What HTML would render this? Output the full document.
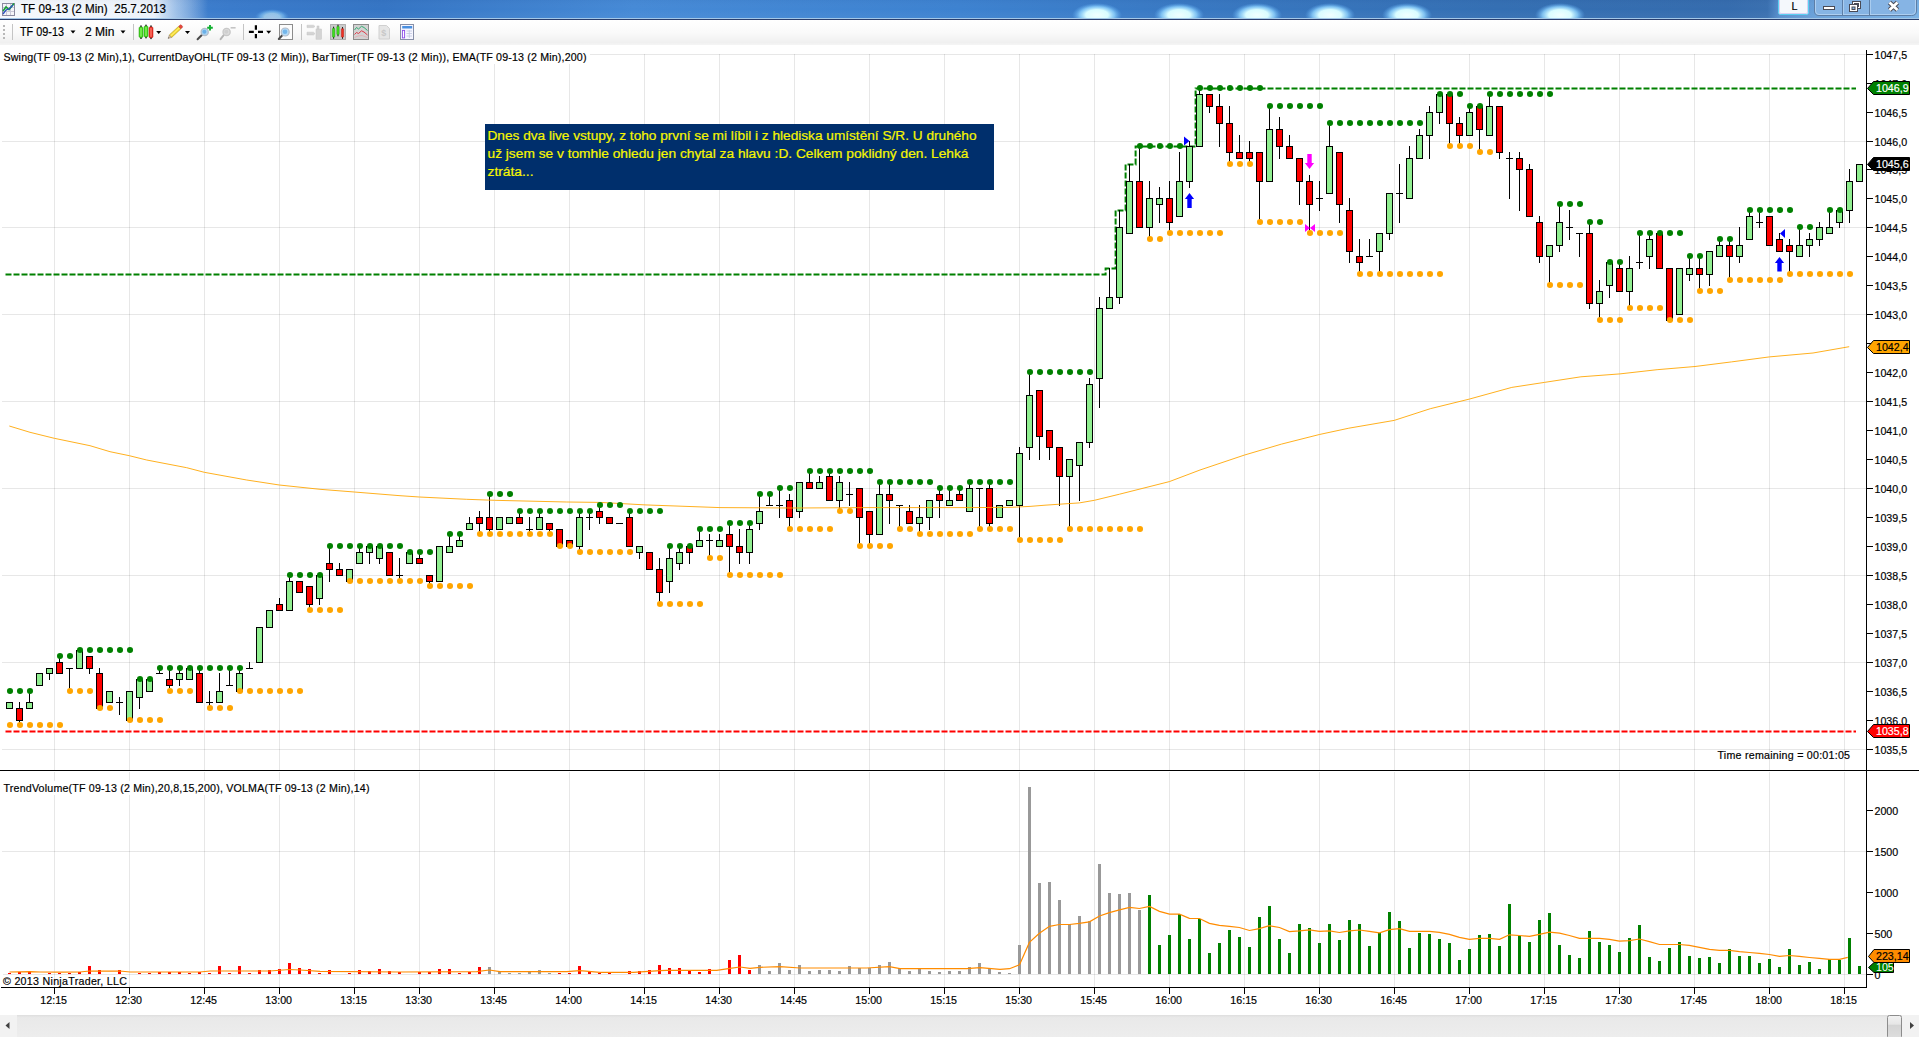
<!DOCTYPE html>
<html lang="cs"><head><meta charset="utf-8"><title>TF 09-13 (2 Min) 25.7.2013</title>
<style>html,body{margin:0;padding:0;background:#fff;overflow:hidden}svg{display:block}text{white-space:pre}</style>
</head><body>
<svg width="1919" height="1037" viewBox="0 0 1919 1037" font-family="'Liberation Sans', Arial, sans-serif" font-size="10.67px">
<defs>
<linearGradient id="tb" x1="0" x2="1" y1="0" y2="0">
<stop offset="0" stop-color="#4a8bd6"/><stop offset="0.12" stop-color="#3a7bcb"/><stop offset="0.2" stop-color="#3575c4"/>
<stop offset="0.33" stop-color="#468ad6"/><stop offset="0.5" stop-color="#3d82d0"/><stop offset="0.62" stop-color="#3878c2"/>
<stop offset="0.78" stop-color="#346fb3"/><stop offset="0.9" stop-color="#356cae"/><stop offset="0.921" stop-color="#3a70b0"/>
<stop offset="0.9275" stop-color="#5890ce"/><stop offset="0.945" stop-color="#689fd8"/><stop offset="1" stop-color="#78b0e4"/>
</linearGradient>
<linearGradient id="tbv" x1="0" x2="0" y1="0" y2="1">
<stop offset="0" stop-color="#000030" stop-opacity="0.03"/><stop offset="0.5" stop-color="#ffffff" stop-opacity="0"/>
<stop offset="1" stop-color="#ffffff" stop-opacity="0.04"/>
</linearGradient>
<linearGradient id="glow" x1="0" x2="1" y1="0" y2="0">
<stop offset="0" stop-color="#ffffff" stop-opacity="0.95"/><stop offset="0.74" stop-color="#ffffff" stop-opacity="0.9"/>
<stop offset="0.85" stop-color="#dcebfa" stop-opacity="0.6"/><stop offset="1" stop-color="#ffffff" stop-opacity="0"/>
</linearGradient>
<radialGradient id="blob" cx="0.5" cy="0.5" r="0.5">
<stop offset="0" stop-color="#f0ffff" stop-opacity="1"/><stop offset="0.45" stop-color="#d8fcff" stop-opacity="1"/>
<stop offset="0.7" stop-color="#8fd4ff" stop-opacity="0.8"/><stop offset="1" stop-color="#5aa8f0" stop-opacity="0"/>
</radialGradient>
<linearGradient id="tool" x1="0" x2="0" y1="0" y2="1">
<stop offset="0" stop-color="#ffffff"/><stop offset="0.5" stop-color="#fafafa"/><stop offset="0.9" stop-color="#f0f0f0"/><stop offset="1" stop-color="#f6f6f6"/>
</linearGradient>
<linearGradient id="sb" x1="0" x2="0" y1="0" y2="1">
<stop offset="0" stop-color="#dedede"/><stop offset="0.12" stop-color="#e9e9e9"/><stop offset="1" stop-color="#ededed"/>
</linearGradient>
<linearGradient id="thumb" x1="0" x2="0" y1="0" y2="1">
<stop offset="0" stop-color="#f2f2f2"/><stop offset="0.38" stop-color="#e6e6e6"/><stop offset="0.42" stop-color="#d4d4d4"/><stop offset="1" stop-color="#dedede"/>
</linearGradient>
<clipPath id="tbclip"><rect x="0" y="0" width="1919" height="18"/></clipPath>
</defs>
<rect x="0" y="0" width="1919" height="1037" fill="#ffffff"/>
<g id="titlebar">
<rect x="0" y="0" width="1919" height="18" fill="url(#tb)"/>
<g clip-path="url(#tbclip)">
<rect x="0" y="0" width="208" height="19" fill="url(#glow)"/>
<ellipse cx="272" cy="17" rx="17" ry="8" fill="url(#blob)" opacity="0.55"/>
<ellipse cx="1097" cy="15" rx="25" ry="12" fill="url(#blob)"/>
<ellipse cx="1179" cy="15" rx="25" ry="12" fill="url(#blob)"/>
<ellipse cx="1257" cy="15" rx="25" ry="12" fill="url(#blob)"/>
<ellipse cx="1330" cy="15" rx="25" ry="12" fill="url(#blob)"/>
<ellipse cx="1407" cy="15" rx="25" ry="12" fill="url(#blob)"/>
<ellipse cx="1560" cy="15" rx="25" ry="12" fill="url(#blob)"/>
</g>
<rect x="0" y="0" width="1919" height="18" fill="url(#tbv)"/>
<rect x="0" y="18" width="1919" height="1" fill="#a4c8e8"/>
<rect x="0" y="19" width="1919" height="1" fill="#2a3e6c"/>
<g shape-rendering="crispEdges"><rect x="2.5" y="3.5" width="12" height="12" fill="#f4f4f8" stroke="#8a8aa0"/><path d="M6.5 4V15M10.5 4V15M3 7.5H14M3 11.5H14" stroke="#c8c8d8" fill="none"/></g>
<path d="M3 11 L6 7 L9 9.5 L14 3.5" stroke="#18a038" stroke-width="1.6" fill="none"/>
<path d="M3 14 L6 10 L9 9 L13 5" stroke="#2a52c0" stroke-width="1.3" fill="none"/>
<text x="21" y="12.700" font-size="12px" fill="#000" stroke="#000" stroke-width="0.180" textLength="145" lengthAdjust="spacingAndGlyphs" xml:space="preserve">TF 09-13 (2 Min)  25.7.2013</text>
<rect x="1778.5" y="-2.5" width="30" height="17" rx="2" fill="#f4f8fc" stroke="#5ad0f0"/>
<rect x="1779.5" y="-1.5" width="28" height="15" rx="1.5" fill="none" stroke="#b8a8e8" stroke-opacity="0.5"/>
<text x="1791.500" y="9.800" font-size="10.700px" fill="#000" stroke="#000" stroke-width="0.180">L</text>
<path d="M1814.5 -2 V11 Q1814.5 15.5 1819 15.5 H1911.500 Q1916.5 15.500 1916.5 11 V-2 Z" fill="#86b4e4" stroke="#5d7ea6"/>
<path d="M1815.5 -2 V11 Q1815.5 14.5 1819 14.5 H1911.5 Q1915.5 14.5 1915.5 11 V-2" fill="none" stroke="#b8d6f4" stroke-opacity="0.8"/>
<path d="M1842.5 0V15M1869.5 0V15" stroke="#5d7ea6" fill="none"/>
<path d="M1843.5 0V14.5M1870.5 0V14.5" stroke="#b8d6f4" stroke-opacity="0.7" fill="none"/>
<rect x="1823.5" y="6.500" width="11" height="3" fill="#fff" stroke="#4a4a55"/>
<rect x="1852.5" y="1.500" width="8" height="7" fill="#fff" stroke="#4a4a55"/><rect x="1854.5" y="3.500" width="4" height="3" fill="#86b4e4" stroke="#4a4a55"/>
<rect x="1849.5" y="4.500" width="8" height="7" fill="#fff" stroke="#4a4a55"/><rect x="1852" y="7" width="3" height="2.500" fill="#86b4e4" stroke="#4a4a55"/>
<path d="M1889.500 2.500 L1897.500 10 M1897.500 2.500 L1889.500 10" stroke="#4a4a55" stroke-width="4.600" fill="none"/>
<path d="M1889.500 2.500 L1897.500 10 M1897.500 2.500 L1889.500 10" stroke="#fff" stroke-width="2.800" fill="none"/>
</g>
<g id="toolbar">
<rect x="0" y="20" width="1919" height="25" fill="url(#tool)"/>
<rect x="0" y="44" width="1919" height="1" fill="#f4f4f4"/>
<rect x="3" y="25" width="2" height="2" fill="#b8b8b8"/>
<rect x="3" y="29" width="2" height="2" fill="#b8b8b8"/>
<rect x="3" y="33" width="2" height="2" fill="#b8b8b8"/>
<rect x="3" y="37" width="2" height="2" fill="#b8b8b8"/>
<rect x="12" y="24" width="1" height="16" fill="#c4c4c4"/>
<text x="20" y="36" font-size="12px" fill="#000" stroke="#000" stroke-width="0.180" textLength="44" lengthAdjust="spacingAndGlyphs">TF 09-13</text>
<path d="M70.500 30.500 h5 l-2.500 3 z" fill="#000"/>
<text x="85" y="36" font-size="12px" fill="#000" stroke="#000" stroke-width="0.180" textLength="29.5" lengthAdjust="spacingAndGlyphs">2 Min</text>
<path d="M120.500 30.500 h5 l-2.500 3 z" fill="#000"/>
<rect x="133" y="24" width="1" height="16" fill="#c4c4c4"/>
<rect x="140.25" y="25.299999999999997" width="1.500" height="13.8" rx="0.700" fill="#1a1a1a"/><rect x="139" y="26.9" width="4" height="10.600000000000001" rx="1.200" fill="#3fd41c" stroke="#2a9a10" stroke-width="0.500"/><rect x="140.3" y="27.7" width="1.400" height="9.000000000000002" rx="0.700" fill="#9cff70" fill-opacity="0.75"/>
<rect x="145.25" y="24.4" width="1.500" height="14.099999999999998" rx="0.700" fill="#1a1a1a"/><rect x="144" y="26.0" width="4" height="10.899999999999999" rx="1.200" fill="#3fd41c" stroke="#2a9a10" stroke-width="0.500"/><rect x="145.3" y="26.8" width="1.400" height="9.299999999999999" rx="0.700" fill="#9cff70" fill-opacity="0.75"/>
<rect x="150.25" y="25.299999999999997" width="1.500" height="14.000000000000004" rx="0.700" fill="#1a1a1a"/><rect x="149" y="26.9" width="4" height="10.800000000000004" rx="1.200" fill="#ee2e24" stroke="#a81810" stroke-width="0.500"/><rect x="150.3" y="27.7" width="1.400" height="9.200000000000005" rx="0.700" fill="#ff9080" fill-opacity="0.75"/>
<path d="M156.200 31 h5 l-2.500 3 z" fill="#000"/>
<g transform="translate(168.100,38.400) rotate(-42.800)"><rect x="3.200" y="-1.700" width="12.600" height="3.400" fill="#f6dc30" stroke="#b09a20" stroke-width="0.600"/><rect x="3.200" y="-0.500" width="12.600" height="1" fill="#fff080" fill-opacity="0.800"/><path d="M3.200 -1.700 L0 0 L3.200 1.700 Z" fill="#d8c0a0" stroke="#8a7a6a" stroke-width="0.400"/><path d="M1.100 -0.600 L0 0 L1.100 0.600Z" fill="#444"/><rect x="15.800" y="-1.700" width="3" height="3.400" rx="1" fill="#e8483c" stroke="#a83028" stroke-width="0.400"/></g>
<path d="M185 31 h5 l-2.500 3 z" fill="#000"/>
<path d="M197.6 39.2 L202.29999999999998 34.5" stroke="#4a4a4a" stroke-width="2" stroke-linecap="round"/><circle cx="204.7" cy="31.9" r="3.600" fill="#a8d4f4" stroke="#b4bcc8" stroke-width="1.300"/><circle cx="204.39999999999998" cy="31.7" r="2" fill="#6ab0e8"/>
<path d="M210 25 v5.600 M207.200 27.800 h5.600" stroke="#10b030" stroke-width="1.900"/>
<path d="M220.6 39.2 L224.2 34.5" stroke="#b4b4b4" stroke-width="2" stroke-linecap="round"/><circle cx="226.6" cy="31.9" r="3.600" fill="#dcdcdc" stroke="#c8c8c8" stroke-width="1.300"/><circle cx="226.29999999999998" cy="31.7" r="2" fill="#cfcfcf"/>
<path d="M230.600 27.800 h5" stroke="#c4c4c4" stroke-width="1.600"/>
<rect x="243" y="24" width="1" height="16" fill="#c4c4c4"/>
<path d="M255.900 25.200 v4.600 M255.900 34 v4.300 M248.900 31.900 h4.900 M258 31.900 h5" stroke="#000" stroke-width="2.200" fill="none"/>
<path d="M266.200 30.800 h5 l-2.500 3 z" fill="#000"/>
<rect x="279.500" y="24.500" width="13" height="15" fill="#fcfcfc" stroke="#8c8c8c"/>
<path d="M278.800 39 L282.300 35.300" stroke="#4a4a4a" stroke-width="2" stroke-linecap="round"/>
<circle cx="285.200" cy="32" r="4" fill="#b4daf6" stroke="#b4bcc8" stroke-width="1.200"/><circle cx="285" cy="31.800" r="2.300" fill="#74b6ea"/>
<rect x="301" y="24" width="1" height="16" fill="#c4c4c4"/>
<g fill="#d4d4d4" stroke="#c4c4c4" stroke-width="0.500"><path d="M307 25.200 h6.500 l1.500 1.200 l-1.500 1.200 h-6.500 z"/><path d="M307 32.200 h6.500 l1.500 1.400 l-1.500 1.400 h-6.500 z"/><rect x="316" y="29" width="5.500" height="10.200"/><rect x="317" y="26" width="2" height="3"/></g>
<rect x="330.500" y="24.500" width="15" height="15" fill="#cacaca" stroke="#7c7c7c" stroke-dasharray="1 1"/>
<rect x="333.09999999999997" y="26.7" width="1" height="12.000000000000004" fill="#111"/><rect x="332.4" y="28.2" width="2.400" height="9.000000000000004" rx="0.800" fill="#3fe01c" stroke="#1a8a10" stroke-width="0.400"/>
<rect x="337.5" y="24.7" width="1" height="11.599999999999998" fill="#111"/><rect x="336.8" y="26.2" width="2.400" height="8.599999999999998" rx="0.800" fill="#3fe01c" stroke="#1a8a10" stroke-width="0.400"/>
<rect x="342.0" y="27.1" width="1" height="11.600000000000001" fill="#111"/><rect x="341.3" y="28.6" width="2.400" height="8.600000000000001" rx="0.800" fill="#f03024" stroke="#a01810" stroke-width="0.400"/>
<rect x="353.500" y="24.500" width="15" height="15" fill="#d2d2d2" stroke="#8c8c8c"/>
<path d="M354.500 30 L356.500 27.500 L358.500 29 L361.500 26.300 L364 27.500 L367.500 30.500" stroke="#20a868" stroke-width="0.900" fill="none"/>
<path d="M354.500 34.500 L356.500 32.500 L358.500 33.500 L361.500 30.800 L364 32 L367.500 35" stroke="#e02838" stroke-width="0.900" fill="none"/>
<path d="M354.500 37.500 L358 36 L362 35.500 L367.500 37.500" stroke="#e8a0a8" stroke-width="0.700" fill="none"/>
<path d="M379 25.500 h7.500 l3 3 v10.500 h-10.500 z" fill="#e6e6e6" stroke="#d0d0d0"/>
<text x="381.200" y="36.300" font-size="9px" font-weight="bold" fill="#c8c8c8">$</text>
<rect x="400.500" y="24.500" width="13" height="15" fill="#f6f6ff" stroke="#8890a8"/>
<rect x="402.200" y="26" width="10" height="2.500" fill="#4a90e0"/>
<rect x="402.400" y="30.400" width="2.200" height="7.500" fill="#fff" stroke="#8a4ae8" stroke-width="0.900"/>
<path d="M406.500 31 h5.500 M406.500 33.500 h5.500 M406.500 36 h5.500 M409.300 30 v8" stroke="#c0c8e0" stroke-width="0.800"/>
</g>
<g id="grid" shape-rendering="crispEdges">
<rect x="54" y="54" width="1" height="716" fill="#000" fill-opacity="0.095"/>
<rect x="54" y="772" width="1" height="215" fill="#000" fill-opacity="0.095"/>
<rect x="129" y="54" width="1" height="716" fill="#000" fill-opacity="0.095"/>
<rect x="129" y="772" width="1" height="215" fill="#000" fill-opacity="0.095"/>
<rect x="204" y="54" width="1" height="716" fill="#000" fill-opacity="0.095"/>
<rect x="204" y="772" width="1" height="215" fill="#000" fill-opacity="0.095"/>
<rect x="279" y="54" width="1" height="716" fill="#000" fill-opacity="0.095"/>
<rect x="279" y="772" width="1" height="215" fill="#000" fill-opacity="0.095"/>
<rect x="354" y="54" width="1" height="716" fill="#000" fill-opacity="0.095"/>
<rect x="354" y="772" width="1" height="215" fill="#000" fill-opacity="0.095"/>
<rect x="419" y="54" width="1" height="716" fill="#000" fill-opacity="0.095"/>
<rect x="419" y="772" width="1" height="215" fill="#000" fill-opacity="0.095"/>
<rect x="494" y="54" width="1" height="716" fill="#000" fill-opacity="0.095"/>
<rect x="494" y="772" width="1" height="215" fill="#000" fill-opacity="0.095"/>
<rect x="569" y="54" width="1" height="716" fill="#000" fill-opacity="0.095"/>
<rect x="569" y="772" width="1" height="215" fill="#000" fill-opacity="0.095"/>
<rect x="644" y="54" width="1" height="716" fill="#000" fill-opacity="0.095"/>
<rect x="644" y="772" width="1" height="215" fill="#000" fill-opacity="0.095"/>
<rect x="719" y="54" width="1" height="716" fill="#000" fill-opacity="0.095"/>
<rect x="719" y="772" width="1" height="215" fill="#000" fill-opacity="0.095"/>
<rect x="794" y="54" width="1" height="716" fill="#000" fill-opacity="0.095"/>
<rect x="794" y="772" width="1" height="215" fill="#000" fill-opacity="0.095"/>
<rect x="869" y="54" width="1" height="716" fill="#000" fill-opacity="0.095"/>
<rect x="869" y="772" width="1" height="215" fill="#000" fill-opacity="0.095"/>
<rect x="944" y="54" width="1" height="716" fill="#000" fill-opacity="0.095"/>
<rect x="944" y="772" width="1" height="215" fill="#000" fill-opacity="0.095"/>
<rect x="1019" y="54" width="1" height="716" fill="#000" fill-opacity="0.095"/>
<rect x="1019" y="772" width="1" height="215" fill="#000" fill-opacity="0.095"/>
<rect x="1094" y="54" width="1" height="716" fill="#000" fill-opacity="0.095"/>
<rect x="1094" y="772" width="1" height="215" fill="#000" fill-opacity="0.095"/>
<rect x="1169" y="54" width="1" height="716" fill="#000" fill-opacity="0.095"/>
<rect x="1169" y="772" width="1" height="215" fill="#000" fill-opacity="0.095"/>
<rect x="1244" y="54" width="1" height="716" fill="#000" fill-opacity="0.095"/>
<rect x="1244" y="772" width="1" height="215" fill="#000" fill-opacity="0.095"/>
<rect x="1319" y="54" width="1" height="716" fill="#000" fill-opacity="0.095"/>
<rect x="1319" y="772" width="1" height="215" fill="#000" fill-opacity="0.095"/>
<rect x="1394" y="54" width="1" height="716" fill="#000" fill-opacity="0.095"/>
<rect x="1394" y="772" width="1" height="215" fill="#000" fill-opacity="0.095"/>
<rect x="1469" y="54" width="1" height="716" fill="#000" fill-opacity="0.095"/>
<rect x="1469" y="772" width="1" height="215" fill="#000" fill-opacity="0.095"/>
<rect x="1544" y="54" width="1" height="716" fill="#000" fill-opacity="0.095"/>
<rect x="1544" y="772" width="1" height="215" fill="#000" fill-opacity="0.095"/>
<rect x="1619" y="54" width="1" height="716" fill="#000" fill-opacity="0.095"/>
<rect x="1619" y="772" width="1" height="215" fill="#000" fill-opacity="0.095"/>
<rect x="1694" y="54" width="1" height="716" fill="#000" fill-opacity="0.095"/>
<rect x="1694" y="772" width="1" height="215" fill="#000" fill-opacity="0.095"/>
<rect x="1769" y="54" width="1" height="716" fill="#000" fill-opacity="0.095"/>
<rect x="1769" y="772" width="1" height="215" fill="#000" fill-opacity="0.095"/>
<rect x="1844" y="54" width="1" height="716" fill="#000" fill-opacity="0.095"/>
<rect x="1844" y="772" width="1" height="215" fill="#000" fill-opacity="0.095"/>
<rect x="2" y="54" width="1864" height="1" fill="#000" fill-opacity="0.095"/>
<rect x="2" y="141" width="1864" height="1" fill="#000" fill-opacity="0.095"/>
<rect x="2" y="227" width="1864" height="1" fill="#000" fill-opacity="0.095"/>
<rect x="2" y="314" width="1864" height="1" fill="#000" fill-opacity="0.095"/>
<rect x="2" y="401" width="1864" height="1" fill="#000" fill-opacity="0.095"/>
<rect x="2" y="488" width="1864" height="1" fill="#000" fill-opacity="0.095"/>
<rect x="2" y="575" width="1864" height="1" fill="#000" fill-opacity="0.095"/>
<rect x="2" y="662" width="1864" height="1" fill="#000" fill-opacity="0.095"/>
<rect x="2" y="749" width="1864" height="1" fill="#000" fill-opacity="0.095"/>
<rect x="2" y="851" width="1864" height="1" fill="#000" fill-opacity="0.095"/>
</g>
<rect x="3" y="974" width="1863" height="1" fill="#000" fill-opacity="0.095" shape-rendering="crispEdges"/>
<rect x="2" y="47" width="588" height="17" fill="#ffffff"/>
<text x="3.500" y="61" fill="#000" stroke="#000" stroke-width="0.180" textLength="583" lengthAdjust="spacing">Swing(TF 09-13 (2 Min),1), CurrentDayOHL(TF 09-13 (2 Min)), BarTimer(TF 09-13 (2 Min)), EMA(TF 09-13 (2 Min),200)</text>
<rect x="485" y="124" width="509" height="66" fill="#002f6c"/>
<text x="487.500" y="139.5" font-size="12.500px" fill="#f6f600" stroke="#f6f600" stroke-width="0.200" textLength="489" lengthAdjust="spacingAndGlyphs">Dnes dva live vstupy, z toho první se mi líbil i z hlediska umístění S/R. U druhého</text>
<text x="487.500" y="157.5" font-size="12.500px" fill="#f6f600" stroke="#f6f600" stroke-width="0.200" textLength="481" lengthAdjust="spacingAndGlyphs">už jsem se v tomhle ohledu jen chytal za hlavu :D. Celkem poklidný den. Lehká</text>
<text x="487.500" y="175.5" font-size="12.500px" fill="#f6f600" stroke="#f6f600" stroke-width="0.200" textLength="46" lengthAdjust="spacingAndGlyphs">ztráta...</text>
<path d="M5.5 274.5 H1105.6 V268.5 H1115.6 V210.5 H1125.6 V164.5 H1135.6 V146.5 H1195.6 V88.5 H1856" fill="none" stroke="#008000" stroke-width="2" stroke-dasharray="6 2"/>
<path d="M5.500 731.5 H1856" fill="none" stroke="#ff0000" stroke-width="2" stroke-dasharray="6 2"/>
<g id="candles" shape-rendering="crispEdges">
<rect x="9.0" y="702" width="1" height="7" fill="#000"/>
<rect x="6.5" y="702.5" width="6" height="6" fill="#90ee90" stroke="#000" stroke-width="1"/>
<rect x="19.0" y="702" width="1" height="22" fill="#000"/>
<rect x="16.5" y="708.5" width="6" height="12" fill="#ff0000" stroke="#000" stroke-width="1"/>
<rect x="29.0" y="691" width="1" height="18" fill="#000"/>
<rect x="26.5" y="702.5" width="6" height="6" fill="#90ee90" stroke="#000" stroke-width="1"/>
<rect x="39.0" y="673" width="1" height="13" fill="#000"/>
<rect x="36.5" y="673.5" width="6" height="12" fill="#90ee90" stroke="#000" stroke-width="1"/>
<rect x="49.0" y="668" width="1" height="12" fill="#000"/>
<rect x="46.5" y="668.5" width="6" height="5" fill="#90ee90" stroke="#000" stroke-width="1"/>
<rect x="59.0" y="656" width="1" height="18" fill="#000"/>
<rect x="56.5" y="662.5" width="6" height="11" fill="#ff0000" stroke="#000" stroke-width="1"/>
<rect x="69.0" y="668" width="1" height="24" fill="#000"/>
<rect x="66.0" y="668" width="7" height="1" fill="#000"/>
<rect x="79.0" y="650" width="1" height="19" fill="#000"/>
<rect x="76.5" y="650.5" width="6" height="18" fill="#90ee90" stroke="#000" stroke-width="1"/>
<rect x="89.0" y="656" width="1" height="18" fill="#000"/>
<rect x="86.5" y="656.5" width="6" height="12" fill="#ff0000" stroke="#000" stroke-width="1"/>
<rect x="99.0" y="668" width="1" height="41" fill="#000"/>
<rect x="96.5" y="673.5" width="6" height="35" fill="#ff0000" stroke="#000" stroke-width="1"/>
<rect x="109.0" y="691" width="1" height="12" fill="#000"/>
<rect x="106.5" y="691.5" width="6" height="11" fill="#90ee90" stroke="#000" stroke-width="1"/>
<rect x="119.0" y="697" width="1" height="18" fill="#000"/>
<rect x="116.0" y="702" width="7" height="1" fill="#000"/>
<rect x="129.0" y="691" width="1" height="30" fill="#000"/>
<rect x="126.5" y="691.5" width="6" height="29" fill="#90ee90" stroke="#000" stroke-width="1"/>
<rect x="139.0" y="679" width="1" height="30" fill="#000"/>
<rect x="136.5" y="679.5" width="6" height="18" fill="#90ee90" stroke="#000" stroke-width="1"/>
<rect x="149.0" y="677" width="1" height="15" fill="#000"/>
<rect x="146.5" y="679.5" width="6" height="12" fill="#90ee90" stroke="#000" stroke-width="1"/>
<rect x="159.0" y="668" width="1" height="6" fill="#000"/>
<rect x="156.0" y="673" width="7" height="1" fill="#000"/>
<rect x="169.0" y="668" width="1" height="20" fill="#000"/>
<rect x="166.5" y="679.5" width="6" height="6" fill="#ff0000" stroke="#000" stroke-width="1"/>
<rect x="179.0" y="668" width="1" height="18" fill="#000"/>
<rect x="176.5" y="673.5" width="6" height="6" fill="#90ee90" stroke="#000" stroke-width="1"/>
<rect x="189.0" y="668" width="1" height="12" fill="#000"/>
<rect x="186.5" y="668.5" width="6" height="11" fill="#90ee90" stroke="#000" stroke-width="1"/>
<rect x="199.0" y="670" width="1" height="33" fill="#000"/>
<rect x="196.5" y="673.5" width="6" height="29" fill="#ff0000" stroke="#000" stroke-width="1"/>
<rect x="209.0" y="691" width="1" height="16" fill="#000"/>
<rect x="206.0" y="702" width="7" height="1" fill="#000"/>
<rect x="219.0" y="673" width="1" height="30" fill="#000"/>
<rect x="216.5" y="691.5" width="6" height="11" fill="#90ee90" stroke="#000" stroke-width="1"/>
<rect x="229.0" y="668" width="1" height="18" fill="#000"/>
<rect x="226.0" y="685" width="7" height="1" fill="#000"/>
<rect x="239.0" y="668" width="1" height="24" fill="#000"/>
<rect x="236.5" y="673.5" width="6" height="18" fill="#90ee90" stroke="#000" stroke-width="1"/>
<rect x="249.0" y="662" width="1" height="7" fill="#000"/>
<rect x="246.0" y="668" width="7" height="1" fill="#000"/>
<rect x="259.0" y="627" width="1" height="36" fill="#000"/>
<rect x="256.5" y="627.5" width="6" height="35" fill="#90ee90" stroke="#000" stroke-width="1"/>
<rect x="269.0" y="610" width="1" height="18" fill="#000"/>
<rect x="266.5" y="610.5" width="6" height="17" fill="#90ee90" stroke="#000" stroke-width="1"/>
<rect x="279.0" y="598" width="1" height="13" fill="#000"/>
<rect x="276.5" y="604.5" width="6" height="6" fill="#ff0000" stroke="#000" stroke-width="1"/>
<rect x="289.0" y="575" width="1" height="36" fill="#000"/>
<rect x="286.5" y="581.5" width="6" height="29" fill="#90ee90" stroke="#000" stroke-width="1"/>
<rect x="299.0" y="581" width="1" height="12" fill="#000"/>
<rect x="296.5" y="581.5" width="6" height="11" fill="#ff0000" stroke="#000" stroke-width="1"/>
<rect x="309.0" y="586" width="1" height="25" fill="#000"/>
<rect x="306.5" y="586.5" width="6" height="18" fill="#ff0000" stroke="#000" stroke-width="1"/>
<rect x="319.0" y="575" width="1" height="30" fill="#000"/>
<rect x="316.5" y="575.5" width="6" height="23" fill="#90ee90" stroke="#000" stroke-width="1"/>
<rect x="329.0" y="546" width="1" height="36" fill="#000"/>
<rect x="326.5" y="563.5" width="6" height="6" fill="#ff0000" stroke="#000" stroke-width="1"/>
<rect x="339.0" y="563" width="1" height="13" fill="#000"/>
<rect x="336.5" y="569.5" width="6" height="6" fill="#ff0000" stroke="#000" stroke-width="1"/>
<rect x="349.0" y="569" width="1" height="13" fill="#000"/>
<rect x="346.5" y="569.5" width="6" height="12" fill="#90ee90" stroke="#000" stroke-width="1"/>
<rect x="359.0" y="546" width="1" height="18" fill="#000"/>
<rect x="356.5" y="552.5" width="6" height="11" fill="#90ee90" stroke="#000" stroke-width="1"/>
<rect x="369.0" y="546" width="1" height="18" fill="#000"/>
<rect x="366.5" y="546.5" width="6" height="6" fill="#90ee90" stroke="#000" stroke-width="1"/>
<rect x="379.0" y="546" width="1" height="18" fill="#000"/>
<rect x="376.5" y="546.5" width="6" height="12" fill="#90ee90" stroke="#000" stroke-width="1"/>
<rect x="389.0" y="552" width="1" height="24" fill="#000"/>
<rect x="386.5" y="552.5" width="6" height="23" fill="#ff0000" stroke="#000" stroke-width="1"/>
<rect x="399.0" y="558" width="1" height="24" fill="#000"/>
<rect x="396.0" y="575" width="7" height="1" fill="#000"/>
<rect x="409.0" y="552" width="1" height="12" fill="#000"/>
<rect x="406.5" y="552.5" width="6" height="11" fill="#90ee90" stroke="#000" stroke-width="1"/>
<rect x="419.0" y="552" width="1" height="12" fill="#000"/>
<rect x="416.5" y="558.5" width="6" height="5" fill="#ff0000" stroke="#000" stroke-width="1"/>
<rect x="429.0" y="575" width="1" height="12" fill="#000"/>
<rect x="426.5" y="575.5" width="6" height="6" fill="#ff0000" stroke="#000" stroke-width="1"/>
<rect x="439.0" y="546" width="1" height="36" fill="#000"/>
<rect x="436.5" y="546.5" width="6" height="35" fill="#90ee90" stroke="#000" stroke-width="1"/>
<rect x="449.0" y="534" width="1" height="19" fill="#000"/>
<rect x="446.5" y="546.5" width="6" height="6" fill="#90ee90" stroke="#000" stroke-width="1"/>
<rect x="459.0" y="534" width="1" height="13" fill="#000"/>
<rect x="456.5" y="540.5" width="6" height="6" fill="#90ee90" stroke="#000" stroke-width="1"/>
<rect x="469.0" y="517" width="1" height="13" fill="#000"/>
<rect x="466.5" y="523.5" width="6" height="6" fill="#90ee90" stroke="#000" stroke-width="1"/>
<rect x="479.0" y="511" width="1" height="24" fill="#000"/>
<rect x="476.5" y="517.5" width="6" height="6" fill="#ff0000" stroke="#000" stroke-width="1"/>
<rect x="489.0" y="494" width="1" height="41" fill="#000"/>
<rect x="486.5" y="517.5" width="6" height="12" fill="#ff0000" stroke="#000" stroke-width="1"/>
<rect x="499.0" y="517" width="1" height="13" fill="#000"/>
<rect x="496.5" y="517.5" width="6" height="12" fill="#90ee90" stroke="#000" stroke-width="1"/>
<rect x="509.0" y="517" width="1" height="7" fill="#000"/>
<rect x="506.5" y="517.5" width="6" height="6" fill="#90ee90" stroke="#000" stroke-width="1"/>
<rect x="519.0" y="511" width="1" height="13" fill="#000"/>
<rect x="516.5" y="517.5" width="6" height="6" fill="#ff0000" stroke="#000" stroke-width="1"/>
<rect x="529.0" y="517" width="1" height="18" fill="#000"/>
<rect x="526.0" y="529" width="7" height="1" fill="#000"/>
<rect x="539.0" y="511" width="1" height="19" fill="#000"/>
<rect x="536.5" y="517.5" width="6" height="12" fill="#90ee90" stroke="#000" stroke-width="1"/>
<rect x="549.0" y="523" width="1" height="12" fill="#000"/>
<rect x="546.5" y="523.5" width="6" height="6" fill="#ff0000" stroke="#000" stroke-width="1"/>
<rect x="559.0" y="529" width="1" height="18" fill="#000"/>
<rect x="556.5" y="529.5" width="6" height="17" fill="#ff0000" stroke="#000" stroke-width="1"/>
<rect x="569.0" y="540" width="1" height="7" fill="#000"/>
<rect x="566.5" y="540.5" width="6" height="6" fill="#ff0000" stroke="#000" stroke-width="1"/>
<rect x="579.0" y="511" width="1" height="42" fill="#000"/>
<rect x="576.5" y="517.5" width="6" height="29" fill="#90ee90" stroke="#000" stroke-width="1"/>
<rect x="589.0" y="511" width="1" height="19" fill="#000"/>
<rect x="586.0" y="517" width="7" height="1" fill="#000"/>
<rect x="599.0" y="505" width="1" height="19" fill="#000"/>
<rect x="596.5" y="511.5" width="6" height="6" fill="#ff0000" stroke="#000" stroke-width="1"/>
<rect x="609.0" y="517" width="1" height="7" fill="#000"/>
<rect x="606.5" y="517.5" width="6" height="6" fill="#ff0000" stroke="#000" stroke-width="1"/>
<rect x="616.0" y="523" width="7" height="1" fill="#000"/>
<rect x="629.0" y="511" width="1" height="36" fill="#000"/>
<rect x="626.5" y="517.5" width="6" height="29" fill="#ff0000" stroke="#000" stroke-width="1"/>
<rect x="639.0" y="546" width="1" height="13" fill="#000"/>
<rect x="636.5" y="546.5" width="6" height="6" fill="#90ee90" stroke="#000" stroke-width="1"/>
<rect x="649.0" y="552" width="1" height="18" fill="#000"/>
<rect x="646.5" y="552.5" width="6" height="17" fill="#ff0000" stroke="#000" stroke-width="1"/>
<rect x="659.0" y="558" width="1" height="47" fill="#000"/>
<rect x="656.5" y="569.5" width="6" height="23" fill="#ff0000" stroke="#000" stroke-width="1"/>
<rect x="669.0" y="546" width="1" height="47" fill="#000"/>
<rect x="666.5" y="558.5" width="6" height="23" fill="#90ee90" stroke="#000" stroke-width="1"/>
<rect x="679.0" y="546" width="1" height="24" fill="#000"/>
<rect x="676.5" y="552.5" width="6" height="11" fill="#90ee90" stroke="#000" stroke-width="1"/>
<rect x="689.0" y="546" width="1" height="18" fill="#000"/>
<rect x="686.5" y="546.5" width="6" height="6" fill="#ff0000" stroke="#000" stroke-width="1"/>
<rect x="699.0" y="529" width="1" height="18" fill="#000"/>
<rect x="696.5" y="540.5" width="6" height="6" fill="#90ee90" stroke="#000" stroke-width="1"/>
<rect x="709.0" y="534" width="1" height="25" fill="#000"/>
<rect x="706.0" y="540" width="7" height="1" fill="#000"/>
<rect x="719.0" y="534" width="1" height="13" fill="#000"/>
<rect x="716.5" y="540.5" width="6" height="6" fill="#90ee90" stroke="#000" stroke-width="1"/>
<rect x="729.0" y="523" width="1" height="53" fill="#000"/>
<rect x="726.5" y="534.5" width="6" height="12" fill="#ff0000" stroke="#000" stroke-width="1"/>
<rect x="739.0" y="529" width="1" height="35" fill="#000"/>
<rect x="736.5" y="546.5" width="6" height="6" fill="#ff0000" stroke="#000" stroke-width="1"/>
<rect x="749.0" y="523" width="1" height="41" fill="#000"/>
<rect x="746.5" y="529.5" width="6" height="23" fill="#90ee90" stroke="#000" stroke-width="1"/>
<rect x="759.0" y="494" width="1" height="36" fill="#000"/>
<rect x="756.5" y="511.5" width="6" height="12" fill="#90ee90" stroke="#000" stroke-width="1"/>
<rect x="769.0" y="494" width="1" height="12" fill="#000"/>
<rect x="766.0" y="505" width="7" height="1" fill="#000"/>
<rect x="779.0" y="488" width="1" height="30" fill="#000"/>
<rect x="776.0" y="505" width="7" height="1" fill="#000"/>
<rect x="789.0" y="494" width="1" height="36" fill="#000"/>
<rect x="786.5" y="500.5" width="6" height="17" fill="#ff0000" stroke="#000" stroke-width="1"/>
<rect x="799.0" y="482" width="1" height="36" fill="#000"/>
<rect x="796.5" y="482.5" width="6" height="29" fill="#90ee90" stroke="#000" stroke-width="1"/>
<rect x="809.0" y="471" width="1" height="18" fill="#000"/>
<rect x="806.5" y="482.5" width="6" height="6" fill="#ff0000" stroke="#000" stroke-width="1"/>
<rect x="819.0" y="476" width="1" height="13" fill="#000"/>
<rect x="816.5" y="482.5" width="6" height="6" fill="#90ee90" stroke="#000" stroke-width="1"/>
<rect x="829.0" y="471" width="1" height="30" fill="#000"/>
<rect x="826.5" y="476.5" width="6" height="24" fill="#ff0000" stroke="#000" stroke-width="1"/>
<rect x="839.0" y="476" width="1" height="36" fill="#000"/>
<rect x="836.5" y="482.5" width="6" height="18" fill="#90ee90" stroke="#000" stroke-width="1"/>
<rect x="849.0" y="482" width="1" height="24" fill="#000"/>
<rect x="846.0" y="494" width="7" height="1" fill="#000"/>
<rect x="859.0" y="488" width="1" height="59" fill="#000"/>
<rect x="856.5" y="488.5" width="6" height="29" fill="#ff0000" stroke="#000" stroke-width="1"/>
<rect x="869.0" y="511" width="1" height="36" fill="#000"/>
<rect x="866.5" y="511.5" width="6" height="23" fill="#ff0000" stroke="#000" stroke-width="1"/>
<rect x="879.0" y="482" width="1" height="53" fill="#000"/>
<rect x="876.5" y="494.5" width="6" height="40" fill="#90ee90" stroke="#000" stroke-width="1"/>
<rect x="889.0" y="482" width="1" height="42" fill="#000"/>
<rect x="886.5" y="494.5" width="6" height="6" fill="#ff0000" stroke="#000" stroke-width="1"/>
<rect x="899.0" y="505" width="1" height="25" fill="#000"/>
<rect x="896.0" y="505" width="7" height="1" fill="#000"/>
<rect x="909.0" y="505" width="1" height="19" fill="#000"/>
<rect x="906.5" y="511.5" width="6" height="12" fill="#ff0000" stroke="#000" stroke-width="1"/>
<rect x="919.0" y="505" width="1" height="30" fill="#000"/>
<rect x="916.5" y="517.5" width="6" height="6" fill="#90ee90" stroke="#000" stroke-width="1"/>
<rect x="929.0" y="500" width="1" height="30" fill="#000"/>
<rect x="926.5" y="500.5" width="6" height="17" fill="#90ee90" stroke="#000" stroke-width="1"/>
<rect x="939.0" y="488" width="1" height="30" fill="#000"/>
<rect x="936.5" y="494.5" width="6" height="6" fill="#ff0000" stroke="#000" stroke-width="1"/>
<rect x="949.0" y="488" width="1" height="18" fill="#000"/>
<rect x="946.5" y="500.5" width="6" height="5" fill="#90ee90" stroke="#000" stroke-width="1"/>
<rect x="959.0" y="488" width="1" height="13" fill="#000"/>
<rect x="956.5" y="494.5" width="6" height="6" fill="#ff0000" stroke="#000" stroke-width="1"/>
<rect x="969.0" y="482" width="1" height="30" fill="#000"/>
<rect x="966.5" y="488.5" width="6" height="23" fill="#90ee90" stroke="#000" stroke-width="1"/>
<rect x="979.0" y="488" width="1" height="42" fill="#000"/>
<rect x="976.0" y="488" width="7" height="1" fill="#000"/>
<rect x="989.0" y="482" width="1" height="48" fill="#000"/>
<rect x="986.5" y="488.5" width="6" height="35" fill="#ff0000" stroke="#000" stroke-width="1"/>
<rect x="999.0" y="505" width="1" height="13" fill="#000"/>
<rect x="996.5" y="505.5" width="6" height="12" fill="#90ee90" stroke="#000" stroke-width="1"/>
<rect x="1009.0" y="500" width="1" height="6" fill="#000"/>
<rect x="1006.5" y="500.5" width="6" height="5" fill="#90ee90" stroke="#000" stroke-width="1"/>
<rect x="1019.0" y="447" width="1" height="94" fill="#000"/>
<rect x="1016.5" y="453.5" width="6" height="52" fill="#90ee90" stroke="#000" stroke-width="1"/>
<rect x="1029.0" y="372" width="1" height="88" fill="#000"/>
<rect x="1026.5" y="395.5" width="6" height="52" fill="#90ee90" stroke="#000" stroke-width="1"/>
<rect x="1039.0" y="390" width="1" height="70" fill="#000"/>
<rect x="1036.5" y="390.5" width="6" height="46" fill="#ff0000" stroke="#000" stroke-width="1"/>
<rect x="1049.0" y="430" width="1" height="30" fill="#000"/>
<rect x="1046.5" y="430.5" width="6" height="17" fill="#ff0000" stroke="#000" stroke-width="1"/>
<rect x="1059.0" y="447" width="1" height="59" fill="#000"/>
<rect x="1056.5" y="447.5" width="6" height="29" fill="#ff0000" stroke="#000" stroke-width="1"/>
<rect x="1069.0" y="459" width="1" height="71" fill="#000"/>
<rect x="1066.5" y="459.5" width="6" height="17" fill="#90ee90" stroke="#000" stroke-width="1"/>
<rect x="1079.0" y="442" width="1" height="59" fill="#000"/>
<rect x="1076.5" y="442.5" width="6" height="23" fill="#90ee90" stroke="#000" stroke-width="1"/>
<rect x="1089.0" y="378" width="1" height="70" fill="#000"/>
<rect x="1086.5" y="384.5" width="6" height="58" fill="#90ee90" stroke="#000" stroke-width="1"/>
<rect x="1099.0" y="297" width="1" height="111" fill="#000"/>
<rect x="1096.5" y="308.5" width="6" height="70" fill="#90ee90" stroke="#000" stroke-width="1"/>
<rect x="1109.0" y="268" width="1" height="41" fill="#000"/>
<rect x="1106.5" y="297.5" width="6" height="11" fill="#90ee90" stroke="#000" stroke-width="1"/>
<rect x="1119.0" y="210" width="1" height="94" fill="#000"/>
<rect x="1116.5" y="227.5" width="6" height="70" fill="#90ee90" stroke="#000" stroke-width="1"/>
<rect x="1129.0" y="164" width="1" height="70" fill="#000"/>
<rect x="1126.5" y="181.5" width="6" height="52" fill="#90ee90" stroke="#000" stroke-width="1"/>
<rect x="1139.0" y="146" width="1" height="82" fill="#000"/>
<rect x="1136.5" y="181.5" width="6" height="46" fill="#ff0000" stroke="#000" stroke-width="1"/>
<rect x="1149.0" y="181" width="1" height="59" fill="#000"/>
<rect x="1146.5" y="198.5" width="6" height="29" fill="#90ee90" stroke="#000" stroke-width="1"/>
<rect x="1159.0" y="187" width="1" height="36" fill="#000"/>
<rect x="1156.5" y="198.5" width="6" height="6" fill="#90ee90" stroke="#000" stroke-width="1"/>
<rect x="1169.0" y="181" width="1" height="53" fill="#000"/>
<rect x="1166.5" y="198.5" width="6" height="24" fill="#ff0000" stroke="#000" stroke-width="1"/>
<rect x="1179.0" y="152" width="1" height="65" fill="#000"/>
<rect x="1176.5" y="181.5" width="6" height="35" fill="#90ee90" stroke="#000" stroke-width="1"/>
<rect x="1189.0" y="141" width="1" height="47" fill="#000"/>
<rect x="1186.5" y="146.5" width="6" height="35" fill="#90ee90" stroke="#000" stroke-width="1"/>
<rect x="1199.0" y="88" width="1" height="59" fill="#000"/>
<rect x="1196.5" y="94.5" width="6" height="52" fill="#90ee90" stroke="#000" stroke-width="1"/>
<rect x="1209.0" y="94" width="1" height="19" fill="#000"/>
<rect x="1206.5" y="94.5" width="6" height="12" fill="#ff0000" stroke="#000" stroke-width="1"/>
<rect x="1219.0" y="94" width="1" height="53" fill="#000"/>
<rect x="1216.5" y="106.5" width="6" height="17" fill="#ff0000" stroke="#000" stroke-width="1"/>
<rect x="1229.0" y="106" width="1" height="59" fill="#000"/>
<rect x="1226.5" y="123.5" width="6" height="29" fill="#ff0000" stroke="#000" stroke-width="1"/>
<rect x="1239.0" y="135" width="1" height="24" fill="#000"/>
<rect x="1236.5" y="152.5" width="6" height="6" fill="#ff0000" stroke="#000" stroke-width="1"/>
<rect x="1249.0" y="141" width="1" height="24" fill="#000"/>
<rect x="1246.5" y="152.5" width="6" height="6" fill="#ff0000" stroke="#000" stroke-width="1"/>
<rect x="1259.0" y="152" width="1" height="71" fill="#000"/>
<rect x="1256.5" y="152.5" width="6" height="29" fill="#ff0000" stroke="#000" stroke-width="1"/>
<rect x="1269.0" y="106" width="1" height="76" fill="#000"/>
<rect x="1266.5" y="129.5" width="6" height="52" fill="#90ee90" stroke="#000" stroke-width="1"/>
<rect x="1279.0" y="117" width="1" height="42" fill="#000"/>
<rect x="1276.5" y="129.5" width="6" height="17" fill="#ff0000" stroke="#000" stroke-width="1"/>
<rect x="1289.0" y="135" width="1" height="24" fill="#000"/>
<rect x="1286.5" y="146.5" width="6" height="12" fill="#ff0000" stroke="#000" stroke-width="1"/>
<rect x="1299.0" y="158" width="1" height="47" fill="#000"/>
<rect x="1296.5" y="158.5" width="6" height="23" fill="#ff0000" stroke="#000" stroke-width="1"/>
<rect x="1309.0" y="175" width="1" height="59" fill="#000"/>
<rect x="1306.5" y="181.5" width="6" height="23" fill="#ff0000" stroke="#000" stroke-width="1"/>
<rect x="1319.0" y="181" width="1" height="30" fill="#000"/>
<rect x="1316.0" y="198" width="7" height="1" fill="#000"/>
<rect x="1329.0" y="123" width="1" height="71" fill="#000"/>
<rect x="1326.5" y="146.5" width="6" height="47" fill="#90ee90" stroke="#000" stroke-width="1"/>
<rect x="1339.0" y="152" width="1" height="71" fill="#000"/>
<rect x="1336.5" y="152.5" width="6" height="52" fill="#ff0000" stroke="#000" stroke-width="1"/>
<rect x="1349.0" y="198" width="1" height="65" fill="#000"/>
<rect x="1346.5" y="210.5" width="6" height="41" fill="#ff0000" stroke="#000" stroke-width="1"/>
<rect x="1359.0" y="239" width="1" height="36" fill="#000"/>
<rect x="1356.5" y="256.5" width="6" height="6" fill="#ff0000" stroke="#000" stroke-width="1"/>
<rect x="1369.0" y="239" width="1" height="18" fill="#000"/>
<rect x="1366.0" y="256" width="7" height="1" fill="#000"/>
<rect x="1379.0" y="233" width="1" height="42" fill="#000"/>
<rect x="1376.5" y="233.5" width="6" height="18" fill="#90ee90" stroke="#000" stroke-width="1"/>
<rect x="1389.0" y="193" width="1" height="47" fill="#000"/>
<rect x="1386.5" y="193.5" width="6" height="40" fill="#90ee90" stroke="#000" stroke-width="1"/>
<rect x="1399.0" y="164" width="1" height="59" fill="#000"/>
<rect x="1396.0" y="193" width="7" height="1" fill="#000"/>
<rect x="1409.0" y="146" width="1" height="53" fill="#000"/>
<rect x="1406.5" y="158.5" width="6" height="40" fill="#90ee90" stroke="#000" stroke-width="1"/>
<rect x="1419.0" y="129" width="1" height="30" fill="#000"/>
<rect x="1416.5" y="135.5" width="6" height="23" fill="#90ee90" stroke="#000" stroke-width="1"/>
<rect x="1429.0" y="106" width="1" height="53" fill="#000"/>
<rect x="1426.5" y="112.5" width="6" height="23" fill="#90ee90" stroke="#000" stroke-width="1"/>
<rect x="1439.0" y="94" width="1" height="30" fill="#000"/>
<rect x="1436.5" y="94.5" width="6" height="18" fill="#90ee90" stroke="#000" stroke-width="1"/>
<rect x="1449.0" y="94" width="1" height="53" fill="#000"/>
<rect x="1446.5" y="94.5" width="6" height="29" fill="#ff0000" stroke="#000" stroke-width="1"/>
<rect x="1459.0" y="117" width="1" height="30" fill="#000"/>
<rect x="1456.5" y="123.5" width="6" height="12" fill="#ff0000" stroke="#000" stroke-width="1"/>
<rect x="1469.0" y="106" width="1" height="30" fill="#000"/>
<rect x="1466.5" y="112.5" width="6" height="23" fill="#90ee90" stroke="#000" stroke-width="1"/>
<rect x="1479.0" y="106" width="1" height="47" fill="#000"/>
<rect x="1476.5" y="106.5" width="6" height="23" fill="#ff0000" stroke="#000" stroke-width="1"/>
<rect x="1489.0" y="94" width="1" height="42" fill="#000"/>
<rect x="1486.5" y="106.5" width="6" height="29" fill="#90ee90" stroke="#000" stroke-width="1"/>
<rect x="1499.0" y="106" width="1" height="53" fill="#000"/>
<rect x="1496.5" y="106.5" width="6" height="46" fill="#ff0000" stroke="#000" stroke-width="1"/>
<rect x="1509.0" y="152" width="1" height="47" fill="#000"/>
<rect x="1506.0" y="158" width="7" height="1" fill="#000"/>
<rect x="1519.0" y="152" width="1" height="59" fill="#000"/>
<rect x="1516.5" y="158.5" width="6" height="11" fill="#ff0000" stroke="#000" stroke-width="1"/>
<rect x="1529.0" y="164" width="1" height="53" fill="#000"/>
<rect x="1526.5" y="169.5" width="6" height="47" fill="#ff0000" stroke="#000" stroke-width="1"/>
<rect x="1539.0" y="216" width="1" height="47" fill="#000"/>
<rect x="1536.5" y="222.5" width="6" height="34" fill="#ff0000" stroke="#000" stroke-width="1"/>
<rect x="1549.0" y="245" width="1" height="41" fill="#000"/>
<rect x="1546.5" y="245.5" width="6" height="11" fill="#90ee90" stroke="#000" stroke-width="1"/>
<rect x="1559.0" y="204" width="1" height="48" fill="#000"/>
<rect x="1556.5" y="222.5" width="6" height="23" fill="#90ee90" stroke="#000" stroke-width="1"/>
<rect x="1569.0" y="210" width="1" height="30" fill="#000"/>
<rect x="1566.0" y="227" width="7" height="1" fill="#000"/>
<rect x="1579.0" y="233" width="1" height="24" fill="#000"/>
<rect x="1576.0" y="233" width="7" height="1" fill="#000"/>
<rect x="1589.0" y="222" width="1" height="87" fill="#000"/>
<rect x="1586.5" y="233.5" width="6" height="70" fill="#ff0000" stroke="#000" stroke-width="1"/>
<rect x="1599.0" y="280" width="1" height="41" fill="#000"/>
<rect x="1596.5" y="291.5" width="6" height="12" fill="#90ee90" stroke="#000" stroke-width="1"/>
<rect x="1609.0" y="262" width="1" height="36" fill="#000"/>
<rect x="1606.5" y="262.5" width="6" height="23" fill="#90ee90" stroke="#000" stroke-width="1"/>
<rect x="1619.0" y="262" width="1" height="30" fill="#000"/>
<rect x="1616.5" y="268.5" width="6" height="23" fill="#ff0000" stroke="#000" stroke-width="1"/>
<rect x="1629.0" y="256" width="1" height="53" fill="#000"/>
<rect x="1626.5" y="268.5" width="6" height="23" fill="#90ee90" stroke="#000" stroke-width="1"/>
<rect x="1639.0" y="233" width="1" height="36" fill="#000"/>
<rect x="1636.0" y="262" width="7" height="1" fill="#000"/>
<rect x="1649.0" y="233" width="1" height="36" fill="#000"/>
<rect x="1646.5" y="239.5" width="6" height="17" fill="#90ee90" stroke="#000" stroke-width="1"/>
<rect x="1659.0" y="233" width="1" height="36" fill="#000"/>
<rect x="1656.5" y="233.5" width="6" height="35" fill="#ff0000" stroke="#000" stroke-width="1"/>
<rect x="1669.0" y="268" width="1" height="53" fill="#000"/>
<rect x="1666.5" y="268.5" width="6" height="52" fill="#ff0000" stroke="#000" stroke-width="1"/>
<rect x="1679.0" y="268" width="1" height="47" fill="#000"/>
<rect x="1676.5" y="268.5" width="6" height="46" fill="#90ee90" stroke="#000" stroke-width="1"/>
<rect x="1689.0" y="256" width="1" height="25" fill="#000"/>
<rect x="1686.5" y="268.5" width="6" height="6" fill="#90ee90" stroke="#000" stroke-width="1"/>
<rect x="1699.0" y="256" width="1" height="36" fill="#000"/>
<rect x="1696.5" y="268.5" width="6" height="6" fill="#ff0000" stroke="#000" stroke-width="1"/>
<rect x="1709.0" y="251" width="1" height="35" fill="#000"/>
<rect x="1706.5" y="251.5" width="6" height="23" fill="#90ee90" stroke="#000" stroke-width="1"/>
<rect x="1719.0" y="239" width="1" height="18" fill="#000"/>
<rect x="1716.5" y="245.5" width="6" height="11" fill="#90ee90" stroke="#000" stroke-width="1"/>
<rect x="1729.0" y="239" width="1" height="42" fill="#000"/>
<rect x="1726.5" y="245.5" width="6" height="11" fill="#ff0000" stroke="#000" stroke-width="1"/>
<rect x="1739.0" y="227" width="1" height="36" fill="#000"/>
<rect x="1736.5" y="245.5" width="6" height="11" fill="#90ee90" stroke="#000" stroke-width="1"/>
<rect x="1749.0" y="210" width="1" height="30" fill="#000"/>
<rect x="1746.5" y="216.5" width="6" height="23" fill="#90ee90" stroke="#000" stroke-width="1"/>
<rect x="1759.0" y="210" width="1" height="18" fill="#000"/>
<rect x="1756.0" y="222" width="7" height="1" fill="#000"/>
<rect x="1769.0" y="216" width="1" height="30" fill="#000"/>
<rect x="1766.5" y="216.5" width="6" height="29" fill="#ff0000" stroke="#000" stroke-width="1"/>
<rect x="1779.0" y="233" width="1" height="19" fill="#000"/>
<rect x="1776.5" y="239.5" width="6" height="12" fill="#ff0000" stroke="#000" stroke-width="1"/>
<rect x="1789.0" y="239" width="1" height="36" fill="#000"/>
<rect x="1786.5" y="245.5" width="6" height="6" fill="#ff0000" stroke="#000" stroke-width="1"/>
<rect x="1799.0" y="227" width="1" height="30" fill="#000"/>
<rect x="1796.5" y="245.5" width="6" height="11" fill="#90ee90" stroke="#000" stroke-width="1"/>
<rect x="1809.0" y="233" width="1" height="24" fill="#000"/>
<rect x="1806.5" y="239.5" width="6" height="6" fill="#90ee90" stroke="#000" stroke-width="1"/>
<rect x="1819.0" y="222" width="1" height="24" fill="#000"/>
<rect x="1816.5" y="227.5" width="6" height="12" fill="#90ee90" stroke="#000" stroke-width="1"/>
<rect x="1829.0" y="210" width="1" height="24" fill="#000"/>
<rect x="1826.5" y="227.5" width="6" height="6" fill="#90ee90" stroke="#000" stroke-width="1"/>
<rect x="1839.0" y="210" width="1" height="18" fill="#000"/>
<rect x="1836.5" y="210.5" width="6" height="12" fill="#90ee90" stroke="#000" stroke-width="1"/>
<rect x="1849.0" y="169" width="1" height="54" fill="#000"/>
<rect x="1846.5" y="181.5" width="6" height="29" fill="#90ee90" stroke="#000" stroke-width="1"/>
<rect x="1859.0" y="164" width="1" height="18" fill="#000"/>
<rect x="1856.5" y="164.5" width="6" height="17" fill="#90ee90" stroke="#000" stroke-width="1"/>
</g>
<polyline fill="none" stroke="#ffa500" stroke-width="1" stroke-opacity="0.880" points="9.3,426 30,432.3 54.3,438.3 90,445.7 110,451.7 129.3,455.7 146.7,460 186.7,467.7 204.3,472.3 246.7,480 279.3,485 320,489.3 354.3,492 400,495.7 419.3,497 466.7,499.3 494.3,500.3 566.7,502 600,502.4 645,504.9 720,507.6 795,508 870,507.6 960,507.6 1010,507.4 1030,506.4 1045,505.2 1059.6,504.2 1079.4,502.9 1094.4,500.3 1119.5,494.2 1169.4,481.6 1200,470 1244.3,455.1 1281.5,444.1 1319.4,434.5 1348.8,428.2 1394.2,420.4 1430.3,408.7 1469.3,399.1 1511.8,387.4 1544.4,382.4 1580.9,376.8 1619.9,373.9 1657.1,369.7 1695,366.5 1731.5,361.9 1769.4,356.9 1813,353 1849.2,346.7"/>
<g id="gd" fill="#008000">
<circle cx="10" cy="691" r="3.050"/>
<circle cx="20" cy="691" r="3.050"/>
<circle cx="30" cy="691" r="3.050"/>
<circle cx="60" cy="656" r="3.050"/>
<circle cx="70" cy="656" r="3.050"/>
<circle cx="80" cy="650" r="3.050"/>
<circle cx="90" cy="650" r="3.050"/>
<circle cx="100" cy="650" r="3.050"/>
<circle cx="110" cy="650" r="3.050"/>
<circle cx="120" cy="650" r="3.050"/>
<circle cx="130" cy="650" r="3.050"/>
<circle cx="140" cy="679" r="3.050"/>
<circle cx="150" cy="679" r="3.050"/>
<circle cx="160" cy="668" r="3.050"/>
<circle cx="170" cy="668" r="3.050"/>
<circle cx="180" cy="668" r="3.050"/>
<circle cx="190" cy="668" r="3.050"/>
<circle cx="200" cy="668" r="3.050"/>
<circle cx="210" cy="668" r="3.050"/>
<circle cx="220" cy="668" r="3.050"/>
<circle cx="230" cy="668" r="3.050"/>
<circle cx="240" cy="668" r="3.050"/>
<circle cx="290" cy="575" r="3.050"/>
<circle cx="300" cy="575" r="3.050"/>
<circle cx="310" cy="575" r="3.050"/>
<circle cx="320" cy="575" r="3.050"/>
<circle cx="330" cy="546" r="3.050"/>
<circle cx="340" cy="546" r="3.050"/>
<circle cx="350" cy="546" r="3.050"/>
<circle cx="360" cy="546" r="3.050"/>
<circle cx="370" cy="546" r="3.050"/>
<circle cx="380" cy="546" r="3.050"/>
<circle cx="390" cy="546" r="3.050"/>
<circle cx="400" cy="546" r="3.050"/>
<circle cx="410" cy="552" r="3.050"/>
<circle cx="420" cy="552" r="3.050"/>
<circle cx="430" cy="552" r="3.050"/>
<circle cx="450" cy="534" r="3.050"/>
<circle cx="460" cy="534" r="3.050"/>
<circle cx="490" cy="494" r="3.050"/>
<circle cx="500" cy="494" r="3.050"/>
<circle cx="510" cy="494" r="3.050"/>
<circle cx="520" cy="511" r="3.050"/>
<circle cx="530" cy="511" r="3.050"/>
<circle cx="540" cy="511" r="3.050"/>
<circle cx="550" cy="511" r="3.050"/>
<circle cx="560" cy="511" r="3.050"/>
<circle cx="570" cy="511" r="3.050"/>
<circle cx="580" cy="511" r="3.050"/>
<circle cx="590" cy="511" r="3.050"/>
<circle cx="600" cy="505" r="3.050"/>
<circle cx="610" cy="505" r="3.050"/>
<circle cx="620" cy="505" r="3.050"/>
<circle cx="630" cy="511" r="3.050"/>
<circle cx="640" cy="511" r="3.050"/>
<circle cx="650" cy="511" r="3.050"/>
<circle cx="660" cy="511" r="3.050"/>
<circle cx="670" cy="546" r="3.050"/>
<circle cx="680" cy="546" r="3.050"/>
<circle cx="690" cy="546" r="3.050"/>
<circle cx="700" cy="529" r="3.050"/>
<circle cx="710" cy="529" r="3.050"/>
<circle cx="720" cy="529" r="3.050"/>
<circle cx="730" cy="523" r="3.050"/>
<circle cx="740" cy="523" r="3.050"/>
<circle cx="750" cy="523" r="3.050"/>
<circle cx="760" cy="494" r="3.050"/>
<circle cx="770" cy="494" r="3.050"/>
<circle cx="780" cy="488" r="3.050"/>
<circle cx="790" cy="488" r="3.050"/>
<circle cx="810" cy="471" r="3.050"/>
<circle cx="820" cy="471" r="3.050"/>
<circle cx="830" cy="471" r="3.050"/>
<circle cx="840" cy="471" r="3.050"/>
<circle cx="850" cy="471" r="3.050"/>
<circle cx="860" cy="471" r="3.050"/>
<circle cx="870" cy="471" r="3.050"/>
<circle cx="880" cy="482" r="3.050"/>
<circle cx="890" cy="482" r="3.050"/>
<circle cx="900" cy="482" r="3.050"/>
<circle cx="910" cy="482" r="3.050"/>
<circle cx="920" cy="482" r="3.050"/>
<circle cx="930" cy="482" r="3.050"/>
<circle cx="940" cy="488" r="3.050"/>
<circle cx="950" cy="488" r="3.050"/>
<circle cx="960" cy="488" r="3.050"/>
<circle cx="970" cy="482" r="3.050"/>
<circle cx="980" cy="482" r="3.050"/>
<circle cx="990" cy="482" r="3.050"/>
<circle cx="1000" cy="482" r="3.050"/>
<circle cx="1010" cy="482" r="3.050"/>
<circle cx="1030" cy="372" r="3.050"/>
<circle cx="1040" cy="372" r="3.050"/>
<circle cx="1050" cy="372" r="3.050"/>
<circle cx="1060" cy="372" r="3.050"/>
<circle cx="1070" cy="372" r="3.050"/>
<circle cx="1080" cy="372" r="3.050"/>
<circle cx="1090" cy="372" r="3.050"/>
<circle cx="1140" cy="146" r="3.050"/>
<circle cx="1150" cy="146" r="3.050"/>
<circle cx="1160" cy="146" r="3.050"/>
<circle cx="1170" cy="146" r="3.050"/>
<circle cx="1180" cy="146" r="3.050"/>
<circle cx="1200" cy="88" r="3.050"/>
<circle cx="1210" cy="88" r="3.050"/>
<circle cx="1220" cy="88" r="3.050"/>
<circle cx="1230" cy="88" r="3.050"/>
<circle cx="1240" cy="88" r="3.050"/>
<circle cx="1250" cy="88" r="3.050"/>
<circle cx="1260" cy="88" r="3.050"/>
<circle cx="1270" cy="106" r="3.050"/>
<circle cx="1280" cy="106" r="3.050"/>
<circle cx="1290" cy="106" r="3.050"/>
<circle cx="1300" cy="106" r="3.050"/>
<circle cx="1310" cy="106" r="3.050"/>
<circle cx="1320" cy="106" r="3.050"/>
<circle cx="1330" cy="123" r="3.050"/>
<circle cx="1340" cy="123" r="3.050"/>
<circle cx="1350" cy="123" r="3.050"/>
<circle cx="1360" cy="123" r="3.050"/>
<circle cx="1370" cy="123" r="3.050"/>
<circle cx="1380" cy="123" r="3.050"/>
<circle cx="1390" cy="123" r="3.050"/>
<circle cx="1400" cy="123" r="3.050"/>
<circle cx="1410" cy="123" r="3.050"/>
<circle cx="1420" cy="123" r="3.050"/>
<circle cx="1440" cy="94" r="3.050"/>
<circle cx="1450" cy="94" r="3.050"/>
<circle cx="1460" cy="94" r="3.050"/>
<circle cx="1470" cy="106" r="3.050"/>
<circle cx="1480" cy="106" r="3.050"/>
<circle cx="1490" cy="94" r="3.050"/>
<circle cx="1500" cy="94" r="3.050"/>
<circle cx="1510" cy="94" r="3.050"/>
<circle cx="1520" cy="94" r="3.050"/>
<circle cx="1530" cy="94" r="3.050"/>
<circle cx="1540" cy="94" r="3.050"/>
<circle cx="1550" cy="94" r="3.050"/>
<circle cx="1560" cy="204" r="3.050"/>
<circle cx="1570" cy="204" r="3.050"/>
<circle cx="1580" cy="204" r="3.050"/>
<circle cx="1590" cy="222" r="3.050"/>
<circle cx="1600" cy="222" r="3.050"/>
<circle cx="1610" cy="262" r="3.050"/>
<circle cx="1620" cy="262" r="3.050"/>
<circle cx="1640" cy="233" r="3.050"/>
<circle cx="1650" cy="233" r="3.050"/>
<circle cx="1660" cy="233" r="3.050"/>
<circle cx="1670" cy="233" r="3.050"/>
<circle cx="1680" cy="233" r="3.050"/>
<circle cx="1690" cy="256" r="3.050"/>
<circle cx="1700" cy="256" r="3.050"/>
<circle cx="1720" cy="239" r="3.050"/>
<circle cx="1730" cy="239" r="3.050"/>
<circle cx="1750" cy="210" r="3.050"/>
<circle cx="1760" cy="210" r="3.050"/>
<circle cx="1770" cy="210" r="3.050"/>
<circle cx="1780" cy="210" r="3.050"/>
<circle cx="1790" cy="210" r="3.050"/>
<circle cx="1800" cy="227" r="3.050"/>
<circle cx="1810" cy="227" r="3.050"/>
<circle cx="1830" cy="210" r="3.050"/>
<circle cx="1840" cy="210" r="3.050"/>
</g>
<g id="od" fill="#ffa500">
<circle cx="10" cy="725" r="3.050"/>
<circle cx="20" cy="725" r="3.050"/>
<circle cx="30" cy="725" r="3.050"/>
<circle cx="40" cy="725" r="3.050"/>
<circle cx="50" cy="725" r="3.050"/>
<circle cx="60" cy="725" r="3.050"/>
<circle cx="70" cy="691" r="3.050"/>
<circle cx="80" cy="691" r="3.050"/>
<circle cx="90" cy="691" r="3.050"/>
<circle cx="100" cy="708" r="3.050"/>
<circle cx="110" cy="708" r="3.050"/>
<circle cx="130" cy="720" r="3.050"/>
<circle cx="140" cy="720" r="3.050"/>
<circle cx="150" cy="720" r="3.050"/>
<circle cx="160" cy="720" r="3.050"/>
<circle cx="170" cy="691" r="3.050"/>
<circle cx="180" cy="691" r="3.050"/>
<circle cx="190" cy="691" r="3.050"/>
<circle cx="210" cy="708" r="3.050"/>
<circle cx="220" cy="708" r="3.050"/>
<circle cx="230" cy="708" r="3.050"/>
<circle cx="240" cy="691" r="3.050"/>
<circle cx="250" cy="691" r="3.050"/>
<circle cx="260" cy="691" r="3.050"/>
<circle cx="270" cy="691" r="3.050"/>
<circle cx="280" cy="691" r="3.050"/>
<circle cx="290" cy="691" r="3.050"/>
<circle cx="300" cy="691" r="3.050"/>
<circle cx="310" cy="610" r="3.050"/>
<circle cx="320" cy="610" r="3.050"/>
<circle cx="330" cy="610" r="3.050"/>
<circle cx="340" cy="610" r="3.050"/>
<circle cx="350" cy="581" r="3.050"/>
<circle cx="360" cy="581" r="3.050"/>
<circle cx="370" cy="581" r="3.050"/>
<circle cx="380" cy="581" r="3.050"/>
<circle cx="390" cy="581" r="3.050"/>
<circle cx="400" cy="581" r="3.050"/>
<circle cx="410" cy="581" r="3.050"/>
<circle cx="420" cy="581" r="3.050"/>
<circle cx="430" cy="586" r="3.050"/>
<circle cx="440" cy="586" r="3.050"/>
<circle cx="450" cy="586" r="3.050"/>
<circle cx="460" cy="586" r="3.050"/>
<circle cx="470" cy="586" r="3.050"/>
<circle cx="480" cy="534" r="3.050"/>
<circle cx="490" cy="534" r="3.050"/>
<circle cx="500" cy="534" r="3.050"/>
<circle cx="510" cy="534" r="3.050"/>
<circle cx="520" cy="534" r="3.050"/>
<circle cx="530" cy="534" r="3.050"/>
<circle cx="540" cy="534" r="3.050"/>
<circle cx="550" cy="534" r="3.050"/>
<circle cx="560" cy="546" r="3.050"/>
<circle cx="570" cy="546" r="3.050"/>
<circle cx="580" cy="552" r="3.050"/>
<circle cx="590" cy="552" r="3.050"/>
<circle cx="600" cy="552" r="3.050"/>
<circle cx="610" cy="552" r="3.050"/>
<circle cx="620" cy="552" r="3.050"/>
<circle cx="630" cy="552" r="3.050"/>
<circle cx="660" cy="604" r="3.050"/>
<circle cx="670" cy="604" r="3.050"/>
<circle cx="680" cy="604" r="3.050"/>
<circle cx="690" cy="604" r="3.050"/>
<circle cx="700" cy="604" r="3.050"/>
<circle cx="710" cy="558" r="3.050"/>
<circle cx="720" cy="558" r="3.050"/>
<circle cx="730" cy="575" r="3.050"/>
<circle cx="740" cy="575" r="3.050"/>
<circle cx="750" cy="575" r="3.050"/>
<circle cx="760" cy="575" r="3.050"/>
<circle cx="770" cy="575" r="3.050"/>
<circle cx="780" cy="575" r="3.050"/>
<circle cx="790" cy="529" r="3.050"/>
<circle cx="800" cy="529" r="3.050"/>
<circle cx="810" cy="529" r="3.050"/>
<circle cx="820" cy="529" r="3.050"/>
<circle cx="830" cy="529" r="3.050"/>
<circle cx="840" cy="511" r="3.050"/>
<circle cx="850" cy="511" r="3.050"/>
<circle cx="860" cy="546" r="3.050"/>
<circle cx="870" cy="546" r="3.050"/>
<circle cx="880" cy="546" r="3.050"/>
<circle cx="890" cy="546" r="3.050"/>
<circle cx="900" cy="529" r="3.050"/>
<circle cx="910" cy="529" r="3.050"/>
<circle cx="920" cy="534" r="3.050"/>
<circle cx="930" cy="534" r="3.050"/>
<circle cx="940" cy="534" r="3.050"/>
<circle cx="950" cy="534" r="3.050"/>
<circle cx="960" cy="534" r="3.050"/>
<circle cx="970" cy="534" r="3.050"/>
<circle cx="980" cy="529" r="3.050"/>
<circle cx="990" cy="529" r="3.050"/>
<circle cx="1000" cy="529" r="3.050"/>
<circle cx="1010" cy="529" r="3.050"/>
<circle cx="1020" cy="540" r="3.050"/>
<circle cx="1030" cy="540" r="3.050"/>
<circle cx="1040" cy="540" r="3.050"/>
<circle cx="1050" cy="540" r="3.050"/>
<circle cx="1060" cy="540" r="3.050"/>
<circle cx="1070" cy="529" r="3.050"/>
<circle cx="1080" cy="529" r="3.050"/>
<circle cx="1090" cy="529" r="3.050"/>
<circle cx="1100" cy="529" r="3.050"/>
<circle cx="1110" cy="529" r="3.050"/>
<circle cx="1120" cy="529" r="3.050"/>
<circle cx="1130" cy="529" r="3.050"/>
<circle cx="1140" cy="529" r="3.050"/>
<circle cx="1150" cy="239" r="3.050"/>
<circle cx="1160" cy="239" r="3.050"/>
<circle cx="1170" cy="233" r="3.050"/>
<circle cx="1180" cy="233" r="3.050"/>
<circle cx="1190" cy="233" r="3.050"/>
<circle cx="1200" cy="233" r="3.050"/>
<circle cx="1210" cy="233" r="3.050"/>
<circle cx="1220" cy="233" r="3.050"/>
<circle cx="1230" cy="164" r="3.050"/>
<circle cx="1240" cy="164" r="3.050"/>
<circle cx="1250" cy="164" r="3.050"/>
<circle cx="1260" cy="222" r="3.050"/>
<circle cx="1270" cy="222" r="3.050"/>
<circle cx="1280" cy="222" r="3.050"/>
<circle cx="1290" cy="222" r="3.050"/>
<circle cx="1300" cy="222" r="3.050"/>
<circle cx="1310" cy="233" r="3.050"/>
<circle cx="1320" cy="233" r="3.050"/>
<circle cx="1330" cy="233" r="3.050"/>
<circle cx="1340" cy="233" r="3.050"/>
<circle cx="1360" cy="274" r="3.050"/>
<circle cx="1370" cy="274" r="3.050"/>
<circle cx="1380" cy="274" r="3.050"/>
<circle cx="1390" cy="274" r="3.050"/>
<circle cx="1400" cy="274" r="3.050"/>
<circle cx="1410" cy="274" r="3.050"/>
<circle cx="1420" cy="274" r="3.050"/>
<circle cx="1430" cy="274" r="3.050"/>
<circle cx="1440" cy="274" r="3.050"/>
<circle cx="1450" cy="146" r="3.050"/>
<circle cx="1460" cy="146" r="3.050"/>
<circle cx="1470" cy="146" r="3.050"/>
<circle cx="1480" cy="152" r="3.050"/>
<circle cx="1490" cy="152" r="3.050"/>
<circle cx="1550" cy="285" r="3.050"/>
<circle cx="1560" cy="285" r="3.050"/>
<circle cx="1570" cy="285" r="3.050"/>
<circle cx="1580" cy="285" r="3.050"/>
<circle cx="1600" cy="320" r="3.050"/>
<circle cx="1610" cy="320" r="3.050"/>
<circle cx="1620" cy="320" r="3.050"/>
<circle cx="1630" cy="308" r="3.050"/>
<circle cx="1640" cy="308" r="3.050"/>
<circle cx="1650" cy="308" r="3.050"/>
<circle cx="1660" cy="308" r="3.050"/>
<circle cx="1670" cy="320" r="3.050"/>
<circle cx="1680" cy="320" r="3.050"/>
<circle cx="1690" cy="320" r="3.050"/>
<circle cx="1700" cy="291" r="3.050"/>
<circle cx="1710" cy="291" r="3.050"/>
<circle cx="1720" cy="291" r="3.050"/>
<circle cx="1730" cy="280" r="3.050"/>
<circle cx="1740" cy="280" r="3.050"/>
<circle cx="1750" cy="280" r="3.050"/>
<circle cx="1760" cy="280" r="3.050"/>
<circle cx="1770" cy="280" r="3.050"/>
<circle cx="1780" cy="280" r="3.050"/>
<circle cx="1790" cy="274" r="3.050"/>
<circle cx="1800" cy="274" r="3.050"/>
<circle cx="1810" cy="274" r="3.050"/>
<circle cx="1820" cy="274" r="3.050"/>
<circle cx="1830" cy="274" r="3.050"/>
<circle cx="1840" cy="274" r="3.050"/>
<circle cx="1850" cy="274" r="3.050"/>
</g>
<path d="M1189.5 193 l4.600 6 h-2.400 V208 h-4.400 V199 h-2.400 z" fill="#0000ff"/>
<path d="M1184 136.500 l5.500 4.500 l-5.500 4.500 z" fill="#0000ff"/>
<path d="M1309.5 169 l4.600 -6 h-2.400 V154 h-4.400 V163 h-2.400 z" fill="#ff00ff"/>
<path d="M1305 224 l5 4 l5 -4 v8 l-5 -4 l-5 4 z" fill="#ff00ff"/>
<path d="M1779.5 257 l4.600 6 h-2.400 V271.5 h-4.400 V263 h-2.400 z" fill="#0000ff"/>
<path d="M1785 229 l-5 4.500 l5 4.500 z" fill="#0000ff"/>
<text x="1717.500" y="758.500" fill="#000" stroke="#000" stroke-width="0.180" textLength="132.500" lengthAdjust="spacing">Time remaining = 00:01:05</text>
<g shape-rendering="crispEdges">
<rect x="1866" y="50" width="1" height="938" fill="#000"/>
<rect x="0" y="770" width="1919" height="1" fill="#000"/>
<rect x="1" y="987" width="1866" height="1" fill="#000"/>
<rect x="1867" y="54" width="6" height="1" fill="#000"/>
<rect x="1867" y="83" width="6" height="1" fill="#000"/>
<rect x="1867" y="112" width="6" height="1" fill="#000"/>
<rect x="1867" y="141" width="6" height="1" fill="#000"/>
<rect x="1867" y="169" width="6" height="1" fill="#000"/>
<rect x="1867" y="198" width="6" height="1" fill="#000"/>
<rect x="1867" y="227" width="6" height="1" fill="#000"/>
<rect x="1867" y="256" width="6" height="1" fill="#000"/>
<rect x="1867" y="285" width="6" height="1" fill="#000"/>
<rect x="1867" y="314" width="6" height="1" fill="#000"/>
<rect x="1867" y="343" width="6" height="1" fill="#000"/>
<rect x="1867" y="372" width="6" height="1" fill="#000"/>
<rect x="1867" y="401" width="6" height="1" fill="#000"/>
<rect x="1867" y="430" width="6" height="1" fill="#000"/>
<rect x="1867" y="459" width="6" height="1" fill="#000"/>
<rect x="1867" y="488" width="6" height="1" fill="#000"/>
<rect x="1867" y="517" width="6" height="1" fill="#000"/>
<rect x="1867" y="546" width="6" height="1" fill="#000"/>
<rect x="1867" y="575" width="6" height="1" fill="#000"/>
<rect x="1867" y="604" width="6" height="1" fill="#000"/>
<rect x="1867" y="633" width="6" height="1" fill="#000"/>
<rect x="1867" y="662" width="6" height="1" fill="#000"/>
<rect x="1867" y="691" width="6" height="1" fill="#000"/>
<rect x="1867" y="720" width="6" height="1" fill="#000"/>
<rect x="1867" y="749" width="6" height="1" fill="#000"/>
<rect x="1867" y="974" width="6" height="1" fill="#000"/>
<rect x="1867" y="933" width="6" height="1" fill="#000"/>
<rect x="1867" y="892" width="6" height="1" fill="#000"/>
<rect x="1867" y="851" width="6" height="1" fill="#000"/>
<rect x="1867" y="810" width="6" height="1" fill="#000"/>
<rect x="54" y="988" width="1" height="6" fill="#000"/>
<rect x="129" y="988" width="1" height="6" fill="#000"/>
<rect x="204" y="988" width="1" height="6" fill="#000"/>
<rect x="279" y="988" width="1" height="6" fill="#000"/>
<rect x="354" y="988" width="1" height="6" fill="#000"/>
<rect x="419" y="988" width="1" height="6" fill="#000"/>
<rect x="494" y="988" width="1" height="6" fill="#000"/>
<rect x="569" y="988" width="1" height="6" fill="#000"/>
<rect x="644" y="988" width="1" height="6" fill="#000"/>
<rect x="719" y="988" width="1" height="6" fill="#000"/>
<rect x="794" y="988" width="1" height="6" fill="#000"/>
<rect x="869" y="988" width="1" height="6" fill="#000"/>
<rect x="944" y="988" width="1" height="6" fill="#000"/>
<rect x="1019" y="988" width="1" height="6" fill="#000"/>
<rect x="1094" y="988" width="1" height="6" fill="#000"/>
<rect x="1169" y="988" width="1" height="6" fill="#000"/>
<rect x="1244" y="988" width="1" height="6" fill="#000"/>
<rect x="1319" y="988" width="1" height="6" fill="#000"/>
<rect x="1394" y="988" width="1" height="6" fill="#000"/>
<rect x="1469" y="988" width="1" height="6" fill="#000"/>
<rect x="1544" y="988" width="1" height="6" fill="#000"/>
<rect x="1619" y="988" width="1" height="6" fill="#000"/>
<rect x="1694" y="988" width="1" height="6" fill="#000"/>
<rect x="1769" y="988" width="1" height="6" fill="#000"/>
<rect x="1844" y="988" width="1" height="6" fill="#000"/>
</g>
<text x="1874.500" y="58.9" fill="#000" stroke="#000" stroke-width="0.180">1047,5</text>
<text x="1874.500" y="87.9" fill="#000" stroke="#000" stroke-width="0.180">1047,0</text>
<text x="1874.500" y="116.9" fill="#000" stroke="#000" stroke-width="0.180">1046,5</text>
<text x="1874.500" y="145.9" fill="#000" stroke="#000" stroke-width="0.180">1046,0</text>
<text x="1874.500" y="173.9" fill="#000" stroke="#000" stroke-width="0.180">1045,5</text>
<text x="1874.500" y="202.9" fill="#000" stroke="#000" stroke-width="0.180">1045,0</text>
<text x="1874.500" y="231.9" fill="#000" stroke="#000" stroke-width="0.180">1044,5</text>
<text x="1874.500" y="260.9" fill="#000" stroke="#000" stroke-width="0.180">1044,0</text>
<text x="1874.500" y="289.9" fill="#000" stroke="#000" stroke-width="0.180">1043,5</text>
<text x="1874.500" y="318.9" fill="#000" stroke="#000" stroke-width="0.180">1043,0</text>
<text x="1874.500" y="347.9" fill="#000" stroke="#000" stroke-width="0.180">1042,5</text>
<text x="1874.500" y="376.9" fill="#000" stroke="#000" stroke-width="0.180">1042,0</text>
<text x="1874.500" y="405.9" fill="#000" stroke="#000" stroke-width="0.180">1041,5</text>
<text x="1874.500" y="434.9" fill="#000" stroke="#000" stroke-width="0.180">1041,0</text>
<text x="1874.500" y="463.9" fill="#000" stroke="#000" stroke-width="0.180">1040,5</text>
<text x="1874.500" y="492.9" fill="#000" stroke="#000" stroke-width="0.180">1040,0</text>
<text x="1874.500" y="521.9" fill="#000" stroke="#000" stroke-width="0.180">1039,5</text>
<text x="1874.500" y="550.9" fill="#000" stroke="#000" stroke-width="0.180">1039,0</text>
<text x="1874.500" y="579.9" fill="#000" stroke="#000" stroke-width="0.180">1038,5</text>
<text x="1874.500" y="608.9" fill="#000" stroke="#000" stroke-width="0.180">1038,0</text>
<text x="1874.500" y="637.9" fill="#000" stroke="#000" stroke-width="0.180">1037,5</text>
<text x="1874.500" y="666.9" fill="#000" stroke="#000" stroke-width="0.180">1037,0</text>
<text x="1874.500" y="695.9" fill="#000" stroke="#000" stroke-width="0.180">1036,5</text>
<text x="1874.500" y="724.9" fill="#000" stroke="#000" stroke-width="0.180">1036,0</text>
<text x="1874.500" y="753.9" fill="#000" stroke="#000" stroke-width="0.180">1035,5</text>
<text x="1874.500" y="978.9" fill="#000" stroke="#000" stroke-width="0.180">0</text>
<text x="1874.500" y="937.9" fill="#000" stroke="#000" stroke-width="0.180">500</text>
<text x="1874.500" y="896.9" fill="#000" stroke="#000" stroke-width="0.180">1000</text>
<text x="1874.500" y="855.9" fill="#000" stroke="#000" stroke-width="0.180">1500</text>
<text x="1874.500" y="814.9" fill="#000" stroke="#000" stroke-width="0.180">2000</text>
<text x="53.7" y="1004" fill="#000" stroke="#000" stroke-width="0.180" text-anchor="middle">12:15</text>
<text x="128.7" y="1004" fill="#000" stroke="#000" stroke-width="0.180" text-anchor="middle">12:30</text>
<text x="203.7" y="1004" fill="#000" stroke="#000" stroke-width="0.180" text-anchor="middle">12:45</text>
<text x="278.7" y="1004" fill="#000" stroke="#000" stroke-width="0.180" text-anchor="middle">13:00</text>
<text x="353.7" y="1004" fill="#000" stroke="#000" stroke-width="0.180" text-anchor="middle">13:15</text>
<text x="418.7" y="1004" fill="#000" stroke="#000" stroke-width="0.180" text-anchor="middle">13:30</text>
<text x="493.7" y="1004" fill="#000" stroke="#000" stroke-width="0.180" text-anchor="middle">13:45</text>
<text x="568.7" y="1004" fill="#000" stroke="#000" stroke-width="0.180" text-anchor="middle">14:00</text>
<text x="643.7" y="1004" fill="#000" stroke="#000" stroke-width="0.180" text-anchor="middle">14:15</text>
<text x="718.7" y="1004" fill="#000" stroke="#000" stroke-width="0.180" text-anchor="middle">14:30</text>
<text x="793.7" y="1004" fill="#000" stroke="#000" stroke-width="0.180" text-anchor="middle">14:45</text>
<text x="868.7" y="1004" fill="#000" stroke="#000" stroke-width="0.180" text-anchor="middle">15:00</text>
<text x="943.7" y="1004" fill="#000" stroke="#000" stroke-width="0.180" text-anchor="middle">15:15</text>
<text x="1018.7" y="1004" fill="#000" stroke="#000" stroke-width="0.180" text-anchor="middle">15:30</text>
<text x="1093.7" y="1004" fill="#000" stroke="#000" stroke-width="0.180" text-anchor="middle">15:45</text>
<text x="1168.7" y="1004" fill="#000" stroke="#000" stroke-width="0.180" text-anchor="middle">16:00</text>
<text x="1243.7" y="1004" fill="#000" stroke="#000" stroke-width="0.180" text-anchor="middle">16:15</text>
<text x="1318.7" y="1004" fill="#000" stroke="#000" stroke-width="0.180" text-anchor="middle">16:30</text>
<text x="1393.7" y="1004" fill="#000" stroke="#000" stroke-width="0.180" text-anchor="middle">16:45</text>
<text x="1468.7" y="1004" fill="#000" stroke="#000" stroke-width="0.180" text-anchor="middle">17:00</text>
<text x="1543.7" y="1004" fill="#000" stroke="#000" stroke-width="0.180" text-anchor="middle">17:15</text>
<text x="1618.7" y="1004" fill="#000" stroke="#000" stroke-width="0.180" text-anchor="middle">17:30</text>
<text x="1693.7" y="1004" fill="#000" stroke="#000" stroke-width="0.180" text-anchor="middle">17:45</text>
<text x="1768.7" y="1004" fill="#000" stroke="#000" stroke-width="0.180" text-anchor="middle">18:00</text>
<text x="1843.7" y="1004" fill="#000" stroke="#000" stroke-width="0.180" text-anchor="middle">18:15</text>
<path d="M1867.500 88.5 L1873.500 81.5 H1909.5 V94.5 H1873.500 Z" fill="#008000" stroke="#000" stroke-width="1"/><text x="1876" y="92.4" fill="#fff" stroke="#fff" stroke-width="0.180">1046,9</text>
<path d="M1867.500 164.5 L1873.500 157.5 H1909.5 V170.5 H1873.500 Z" fill="#000000" stroke="#000" stroke-width="1"/><text x="1876" y="168.4" fill="#fff" stroke="#fff" stroke-width="0.180">1045,6</text>
<path d="M1867.500 347.5 L1873.500 340.5 H1909.5 V353.5 H1873.500 Z" fill="#ffa500" stroke="#000" stroke-width="1"/><text x="1876" y="351.4" fill="#000" stroke="#000" stroke-width="0.180" stroke="#000" stroke-width="0.180">1042,4</text>
<path d="M1867.500 731.5 L1873.500 724.5 H1909.5 V737.5 H1873.500 Z" fill="#ff0000" stroke="#000" stroke-width="1"/><text x="1876" y="735.4" fill="#fff" stroke="#fff" stroke-width="0.180">1035,8</text>
<rect x="2" y="781" width="372" height="14" fill="#ffffff"/>
<text x="3.500" y="792" fill="#000" stroke="#000" stroke-width="0.180" textLength="366" lengthAdjust="spacing">TrendVolume(TF 09-13 (2 Min),20,8,15,200), VOLMA(TF 09-13 (2 Min),14)</text>
<g id="vol" shape-rendering="crispEdges">
<rect x="8" y="973" width="3" height="1" fill="#ff0000"/>
<rect x="18" y="972" width="3" height="2" fill="#ff0000"/>
<rect x="28" y="972" width="3" height="2" fill="#ff0000"/>
<rect x="48" y="973" width="3" height="1" fill="#ff0000"/>
<rect x="58" y="973" width="3" height="1" fill="#ff0000"/>
<rect x="68" y="973" width="3" height="1" fill="#ff0000"/>
<rect x="78" y="972" width="3" height="2" fill="#ff0000"/>
<rect x="88" y="966" width="3" height="8" fill="#ff0000"/>
<rect x="98" y="970" width="3" height="4" fill="#ff0000"/>
<rect x="118" y="970" width="3" height="4" fill="#ff0000"/>
<rect x="138" y="973" width="3" height="1" fill="#ff0000"/>
<rect x="148" y="973" width="3" height="1" fill="#ff0000"/>
<rect x="158" y="972" width="3" height="2" fill="#ff0000"/>
<rect x="168" y="972" width="3" height="2" fill="#ff0000"/>
<rect x="178" y="972" width="3" height="2" fill="#ff0000"/>
<rect x="188" y="973" width="3" height="1" fill="#ff0000"/>
<rect x="198" y="972" width="3" height="2" fill="#ff0000"/>
<rect x="208" y="973" width="3" height="1" fill="#ff0000"/>
<rect x="218" y="966" width="3" height="8" fill="#ff0000"/>
<rect x="228" y="973" width="3" height="1" fill="#ff0000"/>
<rect x="238" y="966" width="3" height="8" fill="#ff0000"/>
<rect x="248" y="973" width="3" height="1" fill="#ff0000"/>
<rect x="258" y="970" width="3" height="4" fill="#ff0000"/>
<rect x="268" y="970" width="3" height="4" fill="#ff0000"/>
<rect x="278" y="969" width="3" height="5" fill="#ff0000"/>
<rect x="288" y="963" width="3" height="11" fill="#ff0000"/>
<rect x="298" y="968" width="3" height="6" fill="#ff0000"/>
<rect x="308" y="969" width="3" height="5" fill="#ff0000"/>
<rect x="318" y="973" width="3" height="1" fill="#ff0000"/>
<rect x="328" y="970" width="3" height="4" fill="#ff0000"/>
<rect x="348" y="973" width="3" height="1" fill="#ff0000"/>
<rect x="358" y="970" width="3" height="4" fill="#ff0000"/>
<rect x="368" y="971" width="3" height="3" fill="#ff0000"/>
<rect x="378" y="969" width="3" height="5" fill="#ff0000"/>
<rect x="388" y="971" width="3" height="3" fill="#ff0000"/>
<rect x="398" y="972" width="3" height="2" fill="#ff0000"/>
<rect x="418" y="972" width="3" height="2" fill="#ff0000"/>
<rect x="428" y="972" width="3" height="2" fill="#ff0000"/>
<rect x="438" y="969" width="3" height="5" fill="#ff0000"/>
<rect x="448" y="969" width="3" height="5" fill="#ff0000"/>
<rect x="458" y="973" width="3" height="1" fill="#ff0000"/>
<rect x="468" y="972" width="3" height="2" fill="#ff0000"/>
<rect x="478" y="967" width="3" height="7" fill="#ff0000"/>
<rect x="488" y="967" width="3" height="7" fill="#999999"/>
<rect x="498" y="972" width="3" height="2" fill="#999999"/>
<rect x="508" y="973" width="3" height="1" fill="#999999"/>
<rect x="518" y="973" width="3" height="1" fill="#999999"/>
<rect x="528" y="972" width="3" height="2" fill="#999999"/>
<rect x="538" y="970" width="3" height="4" fill="#999999"/>
<rect x="548" y="973" width="3" height="1" fill="#999999"/>
<rect x="558" y="973" width="3" height="1" fill="#ff0000"/>
<rect x="568" y="973" width="3" height="1" fill="#ff0000"/>
<rect x="578" y="966" width="3" height="8" fill="#ff0000"/>
<rect x="588" y="972" width="3" height="2" fill="#ff0000"/>
<rect x="598" y="973" width="3" height="1" fill="#ff0000"/>
<rect x="608" y="973" width="3" height="1" fill="#ff0000"/>
<rect x="628" y="971" width="3" height="3" fill="#ff0000"/>
<rect x="638" y="971" width="3" height="3" fill="#ff0000"/>
<rect x="648" y="970" width="3" height="4" fill="#ff0000"/>
<rect x="658" y="965" width="3" height="9" fill="#ff0000"/>
<rect x="668" y="968" width="3" height="6" fill="#ff0000"/>
<rect x="678" y="968" width="3" height="6" fill="#ff0000"/>
<rect x="688" y="971" width="3" height="3" fill="#ff0000"/>
<rect x="698" y="972" width="3" height="2" fill="#ff0000"/>
<rect x="708" y="969" width="3" height="5" fill="#ff0000"/>
<rect x="728" y="960" width="3" height="14" fill="#ff0000"/>
<rect x="738" y="955" width="3" height="19" fill="#ff0000"/>
<rect x="748" y="970" width="3" height="4" fill="#ff0000"/>
<rect x="758" y="965" width="3" height="9" fill="#999999"/>
<rect x="768" y="971" width="3" height="3" fill="#999999"/>
<rect x="778" y="963" width="3" height="11" fill="#999999"/>
<rect x="788" y="970" width="3" height="4" fill="#999999"/>
<rect x="798" y="965" width="3" height="9" fill="#999999"/>
<rect x="808" y="971" width="3" height="3" fill="#999999"/>
<rect x="818" y="970" width="3" height="4" fill="#999999"/>
<rect x="828" y="970" width="3" height="4" fill="#999999"/>
<rect x="838" y="971" width="3" height="3" fill="#999999"/>
<rect x="848" y="966" width="3" height="8" fill="#999999"/>
<rect x="858" y="968" width="3" height="6" fill="#999999"/>
<rect x="868" y="968" width="3" height="6" fill="#999999"/>
<rect x="878" y="965" width="3" height="9" fill="#999999"/>
<rect x="888" y="962" width="3" height="12" fill="#999999"/>
<rect x="898" y="968" width="3" height="6" fill="#999999"/>
<rect x="908" y="971" width="3" height="3" fill="#999999"/>
<rect x="918" y="969" width="3" height="5" fill="#999999"/>
<rect x="928" y="971" width="3" height="3" fill="#999999"/>
<rect x="938" y="972" width="3" height="2" fill="#999999"/>
<rect x="948" y="971" width="3" height="3" fill="#999999"/>
<rect x="958" y="971" width="3" height="3" fill="#999999"/>
<rect x="968" y="967" width="3" height="7" fill="#999999"/>
<rect x="978" y="963" width="3" height="11" fill="#999999"/>
<rect x="988" y="968" width="3" height="6" fill="#999999"/>
<rect x="998" y="972" width="3" height="2" fill="#999999"/>
<rect x="1008" y="973" width="3" height="1" fill="#999999"/>
<rect x="1018" y="945" width="3" height="29" fill="#999999"/>
<rect x="1028" y="787" width="3" height="187" fill="#999999"/>
<rect x="1038" y="883" width="3" height="91" fill="#999999"/>
<rect x="1048" y="882" width="3" height="92" fill="#999999"/>
<rect x="1058" y="900" width="3" height="74" fill="#999999"/>
<rect x="1068" y="924" width="3" height="50" fill="#999999"/>
<rect x="1078" y="916" width="3" height="58" fill="#999999"/>
<rect x="1088" y="921" width="3" height="53" fill="#999999"/>
<rect x="1098" y="864" width="3" height="110" fill="#999999"/>
<rect x="1108" y="893" width="3" height="81" fill="#999999"/>
<rect x="1118" y="894" width="3" height="80" fill="#999999"/>
<rect x="1128" y="893" width="3" height="81" fill="#999999"/>
<rect x="1138" y="910" width="3" height="64" fill="#999999"/>
<rect x="1148" y="895" width="3" height="79" fill="#008000"/>
<rect x="1158" y="945" width="3" height="29" fill="#008000"/>
<rect x="1168" y="935" width="3" height="39" fill="#008000"/>
<rect x="1178" y="914" width="3" height="60" fill="#008000"/>
<rect x="1188" y="939" width="3" height="35" fill="#008000"/>
<rect x="1198" y="919" width="3" height="55" fill="#008000"/>
<rect x="1208" y="953" width="3" height="21" fill="#008000"/>
<rect x="1218" y="943" width="3" height="31" fill="#008000"/>
<rect x="1228" y="930" width="3" height="44" fill="#008000"/>
<rect x="1238" y="937" width="3" height="37" fill="#008000"/>
<rect x="1248" y="947" width="3" height="27" fill="#008000"/>
<rect x="1258" y="917" width="3" height="57" fill="#008000"/>
<rect x="1268" y="906" width="3" height="68" fill="#008000"/>
<rect x="1278" y="939" width="3" height="35" fill="#008000"/>
<rect x="1288" y="953" width="3" height="21" fill="#008000"/>
<rect x="1298" y="924" width="3" height="50" fill="#008000"/>
<rect x="1308" y="928" width="3" height="46" fill="#008000"/>
<rect x="1318" y="943" width="3" height="31" fill="#008000"/>
<rect x="1328" y="924" width="3" height="50" fill="#008000"/>
<rect x="1338" y="940" width="3" height="34" fill="#008000"/>
<rect x="1348" y="920" width="3" height="54" fill="#008000"/>
<rect x="1358" y="924" width="3" height="50" fill="#008000"/>
<rect x="1368" y="946" width="3" height="28" fill="#008000"/>
<rect x="1378" y="933" width="3" height="41" fill="#008000"/>
<rect x="1388" y="912" width="3" height="62" fill="#008000"/>
<rect x="1398" y="921" width="3" height="53" fill="#008000"/>
<rect x="1408" y="948" width="3" height="26" fill="#008000"/>
<rect x="1418" y="933" width="3" height="41" fill="#008000"/>
<rect x="1428" y="934" width="3" height="40" fill="#008000"/>
<rect x="1438" y="939" width="3" height="35" fill="#008000"/>
<rect x="1448" y="943" width="3" height="31" fill="#008000"/>
<rect x="1458" y="960" width="3" height="14" fill="#008000"/>
<rect x="1468" y="949" width="3" height="25" fill="#008000"/>
<rect x="1478" y="935" width="3" height="39" fill="#008000"/>
<rect x="1488" y="934" width="3" height="40" fill="#008000"/>
<rect x="1498" y="946" width="3" height="28" fill="#008000"/>
<rect x="1508" y="904" width="3" height="70" fill="#008000"/>
<rect x="1518" y="936" width="3" height="38" fill="#008000"/>
<rect x="1528" y="942" width="3" height="32" fill="#008000"/>
<rect x="1538" y="920" width="3" height="54" fill="#008000"/>
<rect x="1548" y="913" width="3" height="61" fill="#008000"/>
<rect x="1558" y="945" width="3" height="29" fill="#008000"/>
<rect x="1568" y="955" width="3" height="19" fill="#008000"/>
<rect x="1578" y="958" width="3" height="16" fill="#008000"/>
<rect x="1588" y="931" width="3" height="43" fill="#008000"/>
<rect x="1598" y="942" width="3" height="32" fill="#008000"/>
<rect x="1608" y="945" width="3" height="29" fill="#008000"/>
<rect x="1618" y="952" width="3" height="22" fill="#008000"/>
<rect x="1628" y="938" width="3" height="36" fill="#008000"/>
<rect x="1638" y="925" width="3" height="49" fill="#008000"/>
<rect x="1648" y="957" width="3" height="17" fill="#008000"/>
<rect x="1658" y="961" width="3" height="13" fill="#008000"/>
<rect x="1668" y="948" width="3" height="26" fill="#008000"/>
<rect x="1678" y="942" width="3" height="32" fill="#008000"/>
<rect x="1688" y="956" width="3" height="18" fill="#008000"/>
<rect x="1698" y="958" width="3" height="16" fill="#008000"/>
<rect x="1708" y="957" width="3" height="17" fill="#008000"/>
<rect x="1718" y="963" width="3" height="11" fill="#008000"/>
<rect x="1728" y="949" width="3" height="25" fill="#008000"/>
<rect x="1738" y="956" width="3" height="18" fill="#008000"/>
<rect x="1748" y="956" width="3" height="18" fill="#008000"/>
<rect x="1758" y="963" width="3" height="11" fill="#008000"/>
<rect x="1768" y="959" width="3" height="15" fill="#008000"/>
<rect x="1778" y="967" width="3" height="7" fill="#008000"/>
<rect x="1788" y="949" width="3" height="25" fill="#008000"/>
<rect x="1798" y="965" width="3" height="9" fill="#008000"/>
<rect x="1808" y="962" width="3" height="12" fill="#008000"/>
<rect x="1818" y="969" width="3" height="5" fill="#008000"/>
<rect x="1828" y="959" width="3" height="15" fill="#008000"/>
<rect x="1838" y="960" width="3" height="14" fill="#008000"/>
<rect x="1848" y="938" width="3" height="36" fill="#008000"/>
<rect x="1858" y="966" width="3" height="8" fill="#008000"/>
</g>
<polyline fill="none" stroke="#ff8c00" stroke-width="1.200" points="9.5,972 20,971.8 30,971.6 40,972 60,972.2 80,972 89.5,971 100,971.2 120,971 130,972 200,972 210,971 240,971 270,971 289.5,969.5 300,970 320,971.3 400,972 476.7,971.7 489.3,970.0 500,971.7 566.7,971.7 580,970.7 600,972.3 633.3,972.3 660,970.7 666.7,970.3 716.7,970.3 730,968.3 740,967.0 750,968.3 760,967.3 780,966.7 800,968.0 866.7,968.0 889.3,966.7 900,968.7 966.7,968.7 980,967.7 1000,969.4 1009.5,968.7 1019.5,964.8 1029.4,942.4 1039.4,933.2 1049.5,926.3 1059.4,924.5 1069.5,924.5 1079.3,923.4 1089.4,921.8 1099.5,916 1109.4,912.6 1119.5,909.8 1129.6,907.3 1139.4,908.5 1149.5,906.4 1159.4,911.4 1169.5,914.2 1179.5,914.2 1189.4,918.3 1199.5,918.5 1209.4,923.4 1219.4,925.4 1229.5,926.3 1239.4,927.5 1249.5,930.5 1259.3,928.6 1269.4,925.7 1279.5,927.5 1289.4,931.6 1299.5,930.9 1309.6,929.8 1319.4,931.4 1329.5,930.9 1339.4,932.5 1349.5,930.9 1359.5,930 1369.4,931.4 1379.5,932.8 1389.4,929.6 1399.4,928.6 1409.5,931.4 1419.4,931.4 1429.5,931.4 1439.4,932.3 1449.5,934.4 1459.4,937.3 1469.4,939.4 1479.5,938.3 1489.5,938.3 1499.5,939.4 1509.3,934.8 1519.4,935.5 1529.5,936.4 1539.4,934.4 1549.5,932.1 1559.6,933.2 1569.4,935.5 1579.5,938.3 1589.5,938.3 1599.5,938.3 1609.5,939.4 1619.4,941.2 1629.5,940.6 1639.4,939 1649.4,941.7 1659.5,944.5 1669.5,944.5 1679.5,944.5 1689.3,945.4 1699.4,947.4 1709.5,949.3 1719.4,950.4 1729.5,950.4 1739.6,951.6 1749.4,952.5 1759.5,953.4 1769.4,954.5 1779.5,956.4 1789.5,955.5 1799.4,956.4 1809.5,957.5 1819.4,958.4 1829.4,959.4 1839.5,959.4 1847.8,957.3"/>
<path d="M1868.500 967.500 L1874 962.500 H1893.500 V972.500 H1874 Z" fill="#008000" stroke="#000" stroke-width="1"/>
<text x="1876" y="971.300" fill="#fff">105</text>
<path d="M1868.500 956.500 L1874 949.500 H1909.500 V962.500 H1874 Z" fill="#ff8c00" stroke="#000" stroke-width="1"/>
<text x="1876" y="960.400" fill="#000" stroke="#000" stroke-width="0.180">223,14</text>
<text x="3" y="985" fill="#000" stroke="#000" stroke-width="0.180" textLength="124" lengthAdjust="spacing">© 2013 NinjaTrader, LLC</text>
<rect x="0" y="1015" width="1919" height="22" fill="url(#sb)"/>
<rect x="1902" y="1015" width="17" height="22" fill="#f2f2f2"/>
<rect x="0" y="1015" width="17" height="22" fill="#f2f2f2"/>
<rect x="1887.500" y="1015.500" width="14" height="23" rx="2" fill="url(#thumb)" stroke="#8c8c8c"/>
<path d="M9.500 1022 v7 l-4 -3.500 z" fill="#404040"/>
<path d="M1910 1022 v7 l4 -3.500 z" fill="#404040"/>
</svg>
</body></html>
